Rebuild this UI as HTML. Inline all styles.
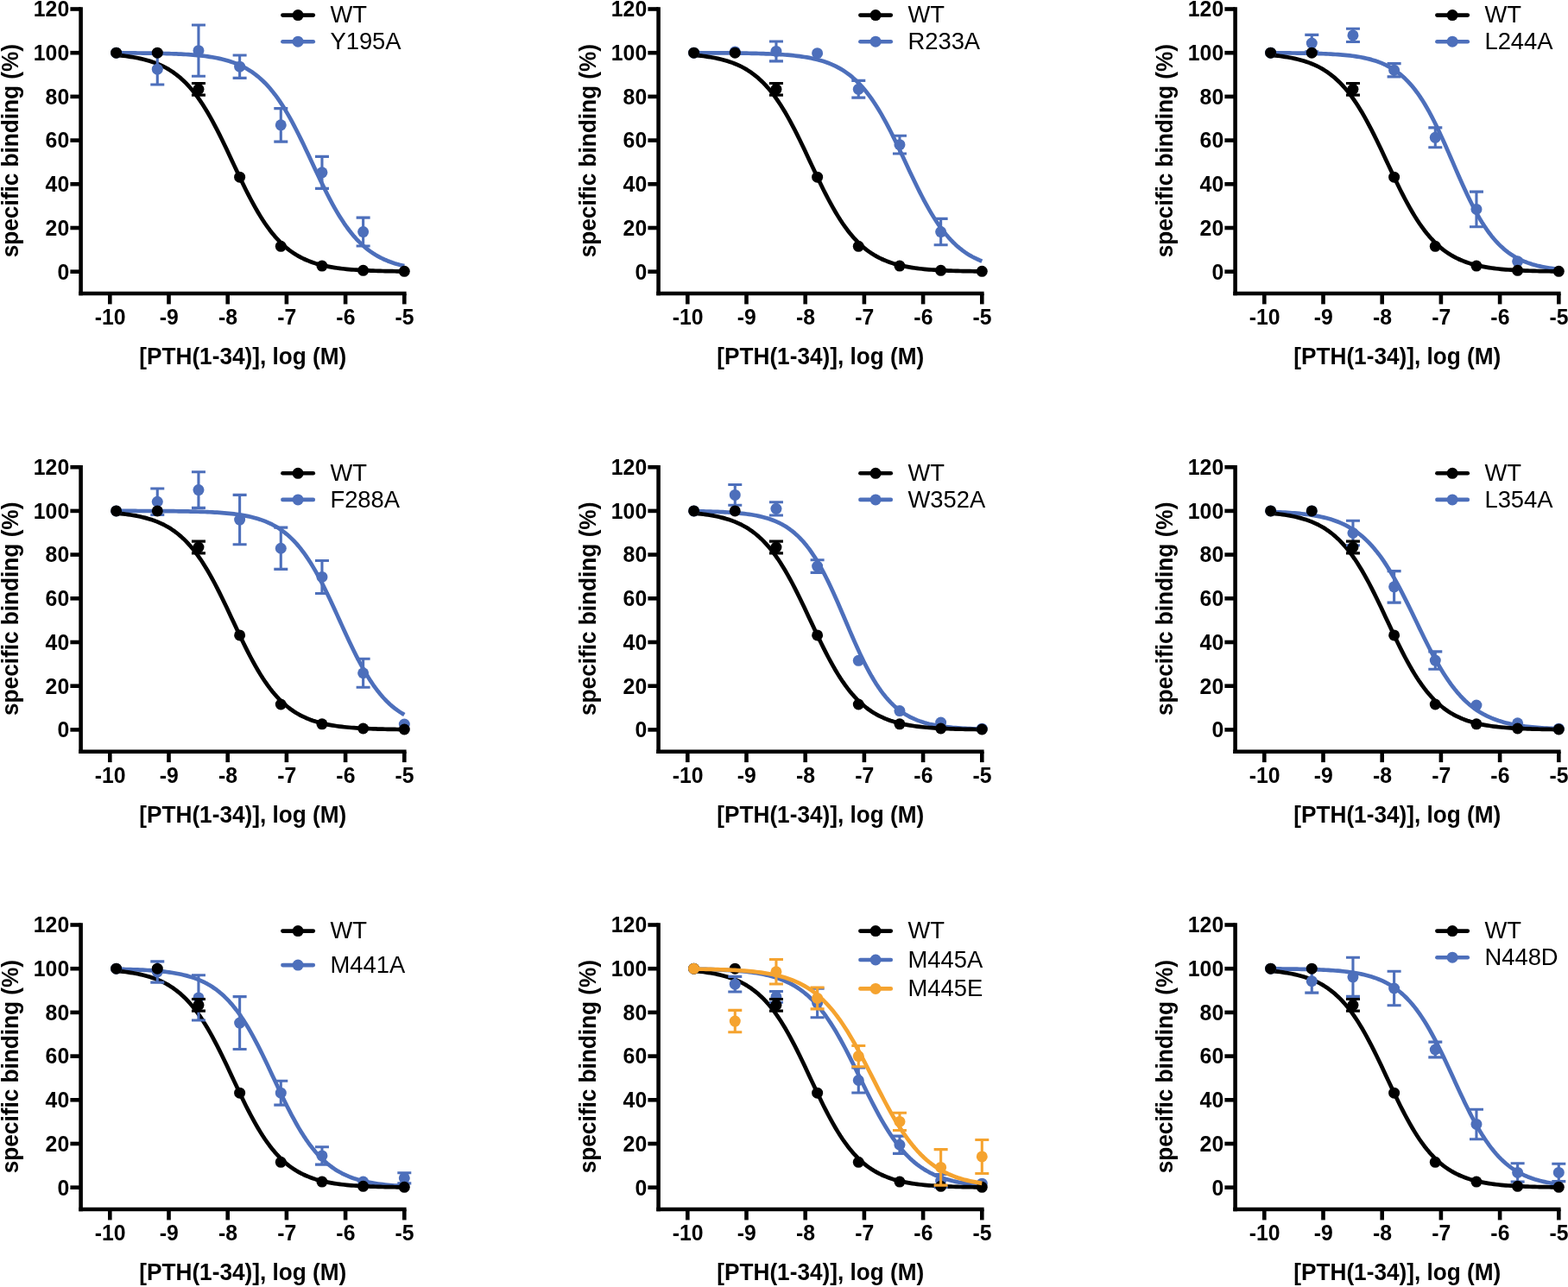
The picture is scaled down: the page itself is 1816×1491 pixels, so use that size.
<!DOCTYPE html>
<html><head><meta charset="utf-8"><title>PTH(1-34) binding curves</title>
<style>
html,body{margin:0;padding:0;background:#fff;}
svg{display:block;filter:blur(0.4px);}
.tk{font-family:"Liberation Sans",Arial,sans-serif;font-weight:bold;font-size:24.8px;fill:#000;}
.ti{font-family:"Liberation Sans",Arial,sans-serif;font-weight:bold;font-size:26.2px;fill:#000;}
.lg{font-family:"Liberation Sans",Arial,sans-serif;font-weight:normal;font-size:27.4px;fill:#000;}
</style></head>
<body>
<svg width="1816" height="1491" viewBox="0 0 1816 1491">
<rect width="1816" height="1491" fill="#fff"/>
<g transform="translate(0,0)">
<path d="M93.60,8.20V342.30" stroke="#000" stroke-width="4.6" fill="none"/>
<path d="M81.40,314.70H93.60" stroke="#000" stroke-width="4.6"/>
<text transform="translate(80.2,323.50) scale(1,1.045)" text-anchor="end" class="tk">0</text>
<path d="M81.40,264.00H93.60" stroke="#000" stroke-width="4.6"/>
<text transform="translate(80.2,272.80) scale(1,1.045)" text-anchor="end" class="tk">20</text>
<path d="M81.40,213.30H93.60" stroke="#000" stroke-width="4.6"/>
<text transform="translate(80.2,222.10) scale(1,1.045)" text-anchor="end" class="tk">40</text>
<path d="M81.40,162.60H93.60" stroke="#000" stroke-width="4.6"/>
<text transform="translate(80.2,171.40) scale(1,1.045)" text-anchor="end" class="tk">60</text>
<path d="M81.40,111.90H93.60" stroke="#000" stroke-width="4.6"/>
<text transform="translate(80.2,120.70) scale(1,1.045)" text-anchor="end" class="tk">80</text>
<path d="M81.40,61.20H93.60" stroke="#000" stroke-width="4.6"/>
<text transform="translate(80.2,70.00) scale(1,1.045)" text-anchor="end" class="tk">100</text>
<path d="M81.40,10.50H93.60" stroke="#000" stroke-width="4.6"/>
<text transform="translate(80.2,19.30) scale(1,1.045)" text-anchor="end" class="tk">120</text>
<path d="M91.30,340.00H470.60" stroke="#000" stroke-width="4.6" fill="none"/>
<path d="M127.30,340.00V352.40" stroke="#000" stroke-width="4.6"/>
<text transform="translate(127.60,376.0) scale(1,1.045)" text-anchor="middle" class="tk">-10</text>
<path d="M195.50,340.00V352.40" stroke="#000" stroke-width="4.6"/>
<text transform="translate(195.80,376.0) scale(1,1.045)" text-anchor="middle" class="tk">-9</text>
<path d="M263.70,340.00V352.40" stroke="#000" stroke-width="4.6"/>
<text transform="translate(264.00,376.0) scale(1,1.045)" text-anchor="middle" class="tk">-8</text>
<path d="M331.90,340.00V352.40" stroke="#000" stroke-width="4.6"/>
<text transform="translate(332.20,376.0) scale(1,1.045)" text-anchor="middle" class="tk">-7</text>
<path d="M400.10,340.00V352.40" stroke="#000" stroke-width="4.6"/>
<text transform="translate(400.40,376.0) scale(1,1.045)" text-anchor="middle" class="tk">-6</text>
<path d="M468.30,340.00V352.40" stroke="#000" stroke-width="4.6"/>
<text transform="translate(468.60,376.0) scale(1,1.045)" text-anchor="middle" class="tk">-5</text>
<text transform="translate(281.3,422.4) scale(1,1.06)" text-anchor="middle" class="ti">[PTH(1-34)], log (M)</text>
<text transform="translate(20.9,174.6) rotate(-90) scale(1,1.06)" text-anchor="middle" class="ti">specific binding (%)</text>
<path d="M134.61,61.32 L137.39,61.33 L140.17,61.35 L142.95,61.36 L145.73,61.38 L148.52,61.39 L151.30,61.41 L154.08,61.43 L156.86,61.46 L159.64,61.48 L162.42,61.51 L165.20,61.54 L167.98,61.57 L170.76,61.61 L173.54,61.65 L176.32,61.69 L179.10,61.74 L181.88,61.79 L184.66,61.85 L187.45,61.92 L190.23,61.99 L193.01,62.06 L195.79,62.15 L198.57,62.24 L201.35,62.34 L204.13,62.45 L206.91,62.58 L209.69,62.71 L212.47,62.86 L215.25,63.02 L218.03,63.20 L220.81,63.39 L223.60,63.61 L226.38,63.84 L229.16,64.10 L231.94,64.38 L234.72,64.69 L237.50,65.03 L240.28,65.40 L243.06,65.81 L245.84,66.25 L248.62,66.74 L251.40,67.27 L254.18,67.85 L256.96,68.49 L259.74,69.18 L262.53,69.94 L265.31,70.77 L268.09,71.67 L270.87,72.66 L273.65,73.73 L276.43,74.89 L279.21,76.16 L281.99,77.54 L284.77,79.03 L287.55,80.66 L290.33,82.41 L293.11,84.31 L295.89,86.36 L298.68,88.57 L301.46,90.94 L304.24,93.50 L307.02,96.24 L309.80,99.17 L312.58,102.30 L315.36,105.64 L318.14,109.18 L320.92,112.94 L323.70,116.92 L326.48,121.10 L329.26,125.51 L332.04,130.11 L334.82,134.92 L337.61,139.93 L340.39,145.11 L343.17,150.46 L345.95,155.97 L348.73,161.60 L351.51,167.34 L354.29,173.18 L357.07,179.07 L359.85,185.01 L362.63,190.96 L365.41,196.89 L368.19,202.79 L370.97,208.62 L373.75,214.37 L376.54,220.00 L379.32,225.50 L382.10,230.85 L384.88,236.03 L387.66,241.03 L390.44,245.84 L393.22,250.45 L396.00,254.84 L398.78,259.03 L401.56,263.00 L404.34,266.76 L407.12,270.30 L409.90,273.64 L412.69,276.76 L415.47,279.69 L418.25,282.43 L421.03,284.98 L423.81,287.36 L426.59,289.57 L429.37,291.61 L432.15,293.51 L434.93,295.26 L437.71,296.88 L440.49,298.38 L443.27,299.75 L446.05,301.02 L448.83,302.19 L451.62,303.26 L454.40,304.24 L457.18,305.14 L459.96,305.97 L462.74,306.73 L465.52,307.42 L468.30,308.06" fill="none" stroke="#4d6fbb" stroke-width="4.7" stroke-linejoin="round"/>
<path d="M134.61,63.84 L137.39,64.10 L140.17,64.38 L142.95,64.69 L145.73,65.03 L148.52,65.40 L151.30,65.80 L154.08,66.25 L156.86,66.73 L159.64,67.26 L162.42,67.84 L165.20,68.48 L167.98,69.17 L170.76,69.93 L173.54,70.76 L176.32,71.66 L179.10,72.64 L181.88,73.71 L184.66,74.88 L187.45,76.14 L190.23,77.52 L193.01,79.01 L195.79,80.63 L198.57,82.39 L201.35,84.28 L204.13,86.33 L206.91,88.54 L209.69,90.91 L212.47,93.46 L215.25,96.20 L218.03,99.13 L220.81,102.26 L223.60,105.59 L226.38,109.14 L229.16,112.89 L231.94,116.86 L234.72,121.05 L237.50,125.45 L240.28,130.05 L243.06,134.86 L245.84,139.86 L248.62,145.05 L251.40,150.39 L254.18,155.89 L256.96,161.53 L259.74,167.27 L262.53,173.10 L265.31,179.00 L268.09,184.93 L270.87,190.88 L273.65,196.82 L276.43,202.72 L279.21,208.55 L281.99,214.29 L284.77,219.93 L287.55,225.43 L290.33,230.78 L293.11,235.96 L295.89,240.97 L298.68,245.78 L301.46,250.39 L304.24,254.79 L307.02,258.98 L309.80,262.95 L312.58,266.71 L315.36,270.26 L318.14,273.59 L320.92,276.73 L323.70,279.66 L326.48,282.40 L329.26,284.95 L332.04,287.33 L334.82,289.54 L337.61,291.59 L340.39,293.49 L343.17,295.24 L345.95,296.86 L348.73,298.36 L351.51,299.74 L354.29,301.01 L357.07,302.17 L359.85,303.24 L362.63,304.23 L365.41,305.13 L368.19,305.96 L370.97,306.72 L373.75,307.41 L376.54,308.05 L379.32,308.63 L382.10,309.16 L384.88,309.65 L387.66,310.09 L390.44,310.50 L393.22,310.87 L396.00,311.21 L398.78,311.52 L401.56,311.80 L404.34,312.06 L407.12,312.29 L409.90,312.50 L412.69,312.70 L415.47,312.88 L418.25,313.04 L421.03,313.19 L423.81,313.32 L426.59,313.45 L429.37,313.56 L432.15,313.66 L434.93,313.75 L437.71,313.84 L440.49,313.91 L443.27,313.98 L446.05,314.05 L448.83,314.11 L451.62,314.16 L454.40,314.21 L457.18,314.25 L459.96,314.29 L462.74,314.33 L465.52,314.36 L468.30,314.39" fill="none" stroke="#000000" stroke-width="4.7" stroke-linejoin="round"/>
<circle cx="134.61" cy="61.20" r="6.5" fill="#4d6fbb"/>
<path d="M182.28,62.47V97.96M174.28,62.47H190.28M174.28,97.96H190.28" stroke="#4d6fbb" stroke-width="3.1" fill="none"/>
<circle cx="182.28" cy="80.21" r="6.5" fill="#4d6fbb"/>
<path d="M229.95,29.01V88.32M221.95,29.01H237.95M221.95,88.32H237.95" stroke="#4d6fbb" stroke-width="3.1" fill="none"/>
<circle cx="229.95" cy="58.66" r="6.5" fill="#4d6fbb"/>
<path d="M277.62,63.99V90.35M269.62,63.99H285.62M269.62,90.35H285.62" stroke="#4d6fbb" stroke-width="3.1" fill="none"/>
<circle cx="277.62" cy="77.17" r="6.5" fill="#4d6fbb"/>
<path d="M325.29,125.59V164.12M317.29,125.59H333.29M317.29,164.12H333.29" stroke="#4d6fbb" stroke-width="3.1" fill="none"/>
<circle cx="325.29" cy="144.85" r="6.5" fill="#4d6fbb"/>
<path d="M372.96,181.36V218.37M364.96,181.36H380.96M364.96,218.37H380.96" stroke="#4d6fbb" stroke-width="3.1" fill="none"/>
<circle cx="372.96" cy="199.86" r="6.5" fill="#4d6fbb"/>
<path d="M420.63,252.09V285.04M412.63,252.09H428.63M412.63,285.04H428.63" stroke="#4d6fbb" stroke-width="3.1" fill="none"/>
<circle cx="420.63" cy="268.56" r="6.5" fill="#4d6fbb"/>
<circle cx="134.61" cy="61.20" r="6.5" fill="#000000"/>
<circle cx="182.28" cy="61.20" r="6.5" fill="#000000"/>
<path d="M229.95,96.44V110.13M221.95,96.44H237.95M221.95,110.13H237.95" stroke="#000000" stroke-width="3.1" fill="none"/>
<circle cx="229.95" cy="103.28" r="6.5" fill="#000000"/>
<circle cx="277.62" cy="205.19" r="6.5" fill="#000000"/>
<circle cx="325.29" cy="285.29" r="6.5" fill="#000000"/>
<circle cx="372.96" cy="308.11" r="6.5" fill="#000000"/>
<circle cx="420.63" cy="313.31" r="6.5" fill="#000000"/>
<circle cx="468.30" cy="314.32" r="6.5" fill="#000000"/>
<path d="M327.4,17.60H362.8" stroke="#000000" stroke-width="4.6" stroke-linecap="round"/>
<circle cx="345.1" cy="17.60" r="6.5" fill="#000000"/>
<text transform="translate(382.4,26.30) scale(1,1.03)" class="lg">WT</text>
<path d="M327.4,48.20H362.8" stroke="#4d6fbb" stroke-width="4.6" stroke-linecap="round"/>
<circle cx="345.1" cy="48.20" r="6.5" fill="#4d6fbb"/>
<text transform="translate(382.4,56.90) scale(1,1.03)" class="lg">Y195A</text>
</g>
<g transform="translate(669,0)">
<path d="M93.60,8.20V342.30" stroke="#000" stroke-width="4.6" fill="none"/>
<path d="M81.40,314.70H93.60" stroke="#000" stroke-width="4.6"/>
<text transform="translate(80.2,323.50) scale(1,1.045)" text-anchor="end" class="tk">0</text>
<path d="M81.40,264.00H93.60" stroke="#000" stroke-width="4.6"/>
<text transform="translate(80.2,272.80) scale(1,1.045)" text-anchor="end" class="tk">20</text>
<path d="M81.40,213.30H93.60" stroke="#000" stroke-width="4.6"/>
<text transform="translate(80.2,222.10) scale(1,1.045)" text-anchor="end" class="tk">40</text>
<path d="M81.40,162.60H93.60" stroke="#000" stroke-width="4.6"/>
<text transform="translate(80.2,171.40) scale(1,1.045)" text-anchor="end" class="tk">60</text>
<path d="M81.40,111.90H93.60" stroke="#000" stroke-width="4.6"/>
<text transform="translate(80.2,120.70) scale(1,1.045)" text-anchor="end" class="tk">80</text>
<path d="M81.40,61.20H93.60" stroke="#000" stroke-width="4.6"/>
<text transform="translate(80.2,70.00) scale(1,1.045)" text-anchor="end" class="tk">100</text>
<path d="M81.40,10.50H93.60" stroke="#000" stroke-width="4.6"/>
<text transform="translate(80.2,19.30) scale(1,1.045)" text-anchor="end" class="tk">120</text>
<path d="M91.30,340.00H470.60" stroke="#000" stroke-width="4.6" fill="none"/>
<path d="M127.30,340.00V352.40" stroke="#000" stroke-width="4.6"/>
<text transform="translate(127.60,376.0) scale(1,1.045)" text-anchor="middle" class="tk">-10</text>
<path d="M195.50,340.00V352.40" stroke="#000" stroke-width="4.6"/>
<text transform="translate(195.80,376.0) scale(1,1.045)" text-anchor="middle" class="tk">-9</text>
<path d="M263.70,340.00V352.40" stroke="#000" stroke-width="4.6"/>
<text transform="translate(264.00,376.0) scale(1,1.045)" text-anchor="middle" class="tk">-8</text>
<path d="M331.90,340.00V352.40" stroke="#000" stroke-width="4.6"/>
<text transform="translate(332.20,376.0) scale(1,1.045)" text-anchor="middle" class="tk">-7</text>
<path d="M400.10,340.00V352.40" stroke="#000" stroke-width="4.6"/>
<text transform="translate(400.40,376.0) scale(1,1.045)" text-anchor="middle" class="tk">-6</text>
<path d="M468.30,340.00V352.40" stroke="#000" stroke-width="4.6"/>
<text transform="translate(468.60,376.0) scale(1,1.045)" text-anchor="middle" class="tk">-5</text>
<text transform="translate(281.3,422.4) scale(1,1.06)" text-anchor="middle" class="ti">[PTH(1-34)], log (M)</text>
<text transform="translate(20.9,174.6) rotate(-90) scale(1,1.06)" text-anchor="middle" class="ti">specific binding (%)</text>
<path d="M134.61,61.26 L137.39,61.27 L140.17,61.28 L142.95,61.29 L145.73,61.29 L148.52,61.30 L151.30,61.31 L154.08,61.32 L156.86,61.34 L159.64,61.35 L162.42,61.37 L165.20,61.38 L167.98,61.40 L170.76,61.42 L173.54,61.44 L176.32,61.46 L179.10,61.49 L181.88,61.52 L184.66,61.55 L187.45,61.58 L190.23,61.62 L193.01,61.66 L195.79,61.71 L198.57,61.76 L201.35,61.81 L204.13,61.88 L206.91,61.94 L209.69,62.01 L212.47,62.09 L215.25,62.18 L218.03,62.28 L220.81,62.38 L223.60,62.50 L226.38,62.63 L229.16,62.77 L231.94,62.92 L234.72,63.09 L237.50,63.27 L240.28,63.47 L243.06,63.69 L245.84,63.94 L248.62,64.20 L251.40,64.50 L254.18,64.82 L256.96,65.17 L259.74,65.55 L262.53,65.97 L265.31,66.43 L268.09,66.93 L270.87,67.48 L273.65,68.08 L276.43,68.74 L279.21,69.46 L281.99,70.24 L284.77,71.10 L287.55,72.03 L290.33,73.05 L293.11,74.16 L295.89,75.36 L298.68,76.67 L301.46,78.09 L304.24,79.63 L307.02,81.30 L309.80,83.11 L312.58,85.06 L315.36,87.17 L318.14,89.44 L320.92,91.89 L323.70,94.51 L326.48,97.32 L329.26,100.33 L332.04,103.54 L334.82,106.95 L337.61,110.58 L340.39,114.42 L343.17,118.47 L345.95,122.74 L348.73,127.22 L351.51,131.91 L354.29,136.79 L357.07,141.87 L359.85,147.12 L362.63,152.53 L365.41,158.08 L368.19,163.76 L370.97,169.54 L373.75,175.40 L376.54,181.31 L379.32,187.26 L382.10,193.20 L384.88,199.13 L387.66,205.00 L390.44,210.80 L393.22,216.51 L396.00,222.09 L398.78,227.54 L401.56,232.83 L404.34,237.94 L407.12,242.87 L409.90,247.60 L412.69,252.13 L415.47,256.45 L418.25,260.56 L421.03,264.45 L423.81,268.12 L426.59,271.59 L429.37,274.84 L432.15,277.90 L434.93,280.75 L437.71,283.42 L440.49,285.90 L443.27,288.21 L446.05,290.36 L448.83,292.35 L451.62,294.19 L454.40,295.89 L457.18,297.46 L459.96,298.91 L462.74,300.24 L465.52,301.47 L468.30,302.60" fill="none" stroke="#4d6fbb" stroke-width="4.7" stroke-linejoin="round"/>
<path d="M134.61,63.84 L137.39,64.10 L140.17,64.38 L142.95,64.69 L145.73,65.03 L148.52,65.40 L151.30,65.80 L154.08,66.25 L156.86,66.73 L159.64,67.26 L162.42,67.84 L165.20,68.48 L167.98,69.17 L170.76,69.93 L173.54,70.76 L176.32,71.66 L179.10,72.64 L181.88,73.71 L184.66,74.88 L187.45,76.14 L190.23,77.52 L193.01,79.01 L195.79,80.63 L198.57,82.39 L201.35,84.28 L204.13,86.33 L206.91,88.54 L209.69,90.91 L212.47,93.46 L215.25,96.20 L218.03,99.13 L220.81,102.26 L223.60,105.59 L226.38,109.14 L229.16,112.89 L231.94,116.86 L234.72,121.05 L237.50,125.45 L240.28,130.05 L243.06,134.86 L245.84,139.86 L248.62,145.05 L251.40,150.39 L254.18,155.89 L256.96,161.53 L259.74,167.27 L262.53,173.10 L265.31,179.00 L268.09,184.93 L270.87,190.88 L273.65,196.82 L276.43,202.72 L279.21,208.55 L281.99,214.29 L284.77,219.93 L287.55,225.43 L290.33,230.78 L293.11,235.96 L295.89,240.97 L298.68,245.78 L301.46,250.39 L304.24,254.79 L307.02,258.98 L309.80,262.95 L312.58,266.71 L315.36,270.26 L318.14,273.59 L320.92,276.73 L323.70,279.66 L326.48,282.40 L329.26,284.95 L332.04,287.33 L334.82,289.54 L337.61,291.59 L340.39,293.49 L343.17,295.24 L345.95,296.86 L348.73,298.36 L351.51,299.74 L354.29,301.01 L357.07,302.17 L359.85,303.24 L362.63,304.23 L365.41,305.13 L368.19,305.96 L370.97,306.72 L373.75,307.41 L376.54,308.05 L379.32,308.63 L382.10,309.16 L384.88,309.65 L387.66,310.09 L390.44,310.50 L393.22,310.87 L396.00,311.21 L398.78,311.52 L401.56,311.80 L404.34,312.06 L407.12,312.29 L409.90,312.50 L412.69,312.70 L415.47,312.88 L418.25,313.04 L421.03,313.19 L423.81,313.32 L426.59,313.45 L429.37,313.56 L432.15,313.66 L434.93,313.75 L437.71,313.84 L440.49,313.91 L443.27,313.98 L446.05,314.05 L448.83,314.11 L451.62,314.16 L454.40,314.21 L457.18,314.25 L459.96,314.29 L462.74,314.33 L465.52,314.36 L468.30,314.39" fill="none" stroke="#000000" stroke-width="4.7" stroke-linejoin="round"/>
<circle cx="134.61" cy="61.20" r="6.5" fill="#4d6fbb"/>
<circle cx="182.28" cy="59.93" r="6.5" fill="#4d6fbb"/>
<path d="M229.95,48.02V70.83M221.95,48.02H237.95M221.95,70.83H237.95" stroke="#4d6fbb" stroke-width="3.1" fill="none"/>
<circle cx="229.95" cy="59.43" r="6.5" fill="#4d6fbb"/>
<circle cx="277.62" cy="61.71" r="6.5" fill="#4d6fbb"/>
<path d="M325.29,93.39V113.17M317.29,93.39H333.29M317.29,113.17H333.29" stroke="#4d6fbb" stroke-width="3.1" fill="none"/>
<circle cx="325.29" cy="103.28" r="6.5" fill="#4d6fbb"/>
<path d="M372.96,157.28V178.06M364.96,157.28H380.96M364.96,178.06H380.96" stroke="#4d6fbb" stroke-width="3.1" fill="none"/>
<circle cx="372.96" cy="167.67" r="6.5" fill="#4d6fbb"/>
<path d="M420.63,253.35V283.77M412.63,253.35H428.63M412.63,283.77H428.63" stroke="#4d6fbb" stroke-width="3.1" fill="none"/>
<circle cx="420.63" cy="268.56" r="6.5" fill="#4d6fbb"/>
<circle cx="134.61" cy="61.20" r="6.5" fill="#000000"/>
<circle cx="182.28" cy="61.20" r="6.5" fill="#000000"/>
<path d="M229.95,96.44V110.13M221.95,96.44H237.95M221.95,110.13H237.95" stroke="#000000" stroke-width="3.1" fill="none"/>
<circle cx="229.95" cy="103.28" r="6.5" fill="#000000"/>
<circle cx="277.62" cy="205.19" r="6.5" fill="#000000"/>
<circle cx="325.29" cy="285.29" r="6.5" fill="#000000"/>
<circle cx="372.96" cy="308.11" r="6.5" fill="#000000"/>
<circle cx="420.63" cy="313.31" r="6.5" fill="#000000"/>
<circle cx="468.30" cy="314.32" r="6.5" fill="#000000"/>
<path d="M327.4,17.60H362.8" stroke="#000000" stroke-width="4.6" stroke-linecap="round"/>
<circle cx="345.1" cy="17.60" r="6.5" fill="#000000"/>
<text transform="translate(382.4,26.30) scale(1,1.03)" class="lg">WT</text>
<path d="M327.4,48.20H362.8" stroke="#4d6fbb" stroke-width="4.6" stroke-linecap="round"/>
<circle cx="345.1" cy="48.20" r="6.5" fill="#4d6fbb"/>
<text transform="translate(382.4,56.90) scale(1,1.03)" class="lg">R233A</text>
</g>
<g transform="translate(1337,0)">
<path d="M93.60,8.20V342.30" stroke="#000" stroke-width="4.6" fill="none"/>
<path d="M81.40,314.70H93.60" stroke="#000" stroke-width="4.6"/>
<text transform="translate(80.2,323.50) scale(1,1.045)" text-anchor="end" class="tk">0</text>
<path d="M81.40,264.00H93.60" stroke="#000" stroke-width="4.6"/>
<text transform="translate(80.2,272.80) scale(1,1.045)" text-anchor="end" class="tk">20</text>
<path d="M81.40,213.30H93.60" stroke="#000" stroke-width="4.6"/>
<text transform="translate(80.2,222.10) scale(1,1.045)" text-anchor="end" class="tk">40</text>
<path d="M81.40,162.60H93.60" stroke="#000" stroke-width="4.6"/>
<text transform="translate(80.2,171.40) scale(1,1.045)" text-anchor="end" class="tk">60</text>
<path d="M81.40,111.90H93.60" stroke="#000" stroke-width="4.6"/>
<text transform="translate(80.2,120.70) scale(1,1.045)" text-anchor="end" class="tk">80</text>
<path d="M81.40,61.20H93.60" stroke="#000" stroke-width="4.6"/>
<text transform="translate(80.2,70.00) scale(1,1.045)" text-anchor="end" class="tk">100</text>
<path d="M81.40,10.50H93.60" stroke="#000" stroke-width="4.6"/>
<text transform="translate(80.2,19.30) scale(1,1.045)" text-anchor="end" class="tk">120</text>
<path d="M91.30,340.00H470.60" stroke="#000" stroke-width="4.6" fill="none"/>
<path d="M127.30,340.00V352.40" stroke="#000" stroke-width="4.6"/>
<text transform="translate(127.60,376.0) scale(1,1.045)" text-anchor="middle" class="tk">-10</text>
<path d="M195.50,340.00V352.40" stroke="#000" stroke-width="4.6"/>
<text transform="translate(195.80,376.0) scale(1,1.045)" text-anchor="middle" class="tk">-9</text>
<path d="M263.70,340.00V352.40" stroke="#000" stroke-width="4.6"/>
<text transform="translate(264.00,376.0) scale(1,1.045)" text-anchor="middle" class="tk">-8</text>
<path d="M331.90,340.00V352.40" stroke="#000" stroke-width="4.6"/>
<text transform="translate(332.20,376.0) scale(1,1.045)" text-anchor="middle" class="tk">-7</text>
<path d="M400.10,340.00V352.40" stroke="#000" stroke-width="4.6"/>
<text transform="translate(400.40,376.0) scale(1,1.045)" text-anchor="middle" class="tk">-6</text>
<path d="M468.30,340.00V352.40" stroke="#000" stroke-width="4.6"/>
<text transform="translate(468.60,376.0) scale(1,1.045)" text-anchor="middle" class="tk">-5</text>
<text transform="translate(281.3,422.4) scale(1,1.06)" text-anchor="middle" class="ti">[PTH(1-34)], log (M)</text>
<text transform="translate(20.9,174.6) rotate(-90) scale(1,1.06)" text-anchor="middle" class="ti">specific binding (%)</text>
<path d="M134.61,61.32 L137.39,61.33 L140.17,61.34 L142.95,61.36 L145.73,61.37 L148.52,61.39 L151.30,61.41 L154.08,61.44 L156.86,61.46 L159.64,61.49 L162.42,61.52 L165.20,61.55 L167.98,61.59 L170.76,61.63 L173.54,61.68 L176.32,61.73 L179.10,61.79 L181.88,61.85 L184.66,61.92 L187.45,61.99 L190.23,62.08 L193.01,62.17 L195.79,62.27 L198.57,62.39 L201.35,62.51 L204.13,62.65 L206.91,62.81 L209.69,62.98 L212.47,63.17 L215.25,63.37 L218.03,63.60 L220.81,63.86 L223.60,64.14 L226.38,64.45 L229.16,64.79 L231.94,65.16 L234.72,65.58 L237.50,66.04 L240.28,66.54 L243.06,67.10 L245.84,67.71 L248.62,68.39 L251.40,69.13 L254.18,69.95 L256.96,70.85 L259.74,71.83 L262.53,72.92 L265.31,74.10 L268.09,75.40 L270.87,76.83 L273.65,78.38 L276.43,80.08 L279.21,81.93 L281.99,83.94 L284.77,86.13 L287.55,88.50 L290.33,91.07 L293.11,93.85 L295.89,96.84 L298.68,100.07 L301.46,103.52 L304.24,107.22 L307.02,111.16 L309.80,115.35 L312.58,119.79 L315.36,124.49 L318.14,129.42 L320.92,134.59 L323.70,139.99 L326.48,145.60 L329.26,151.40 L332.04,157.38 L334.82,163.50 L337.61,169.74 L340.39,176.08 L343.17,182.47 L345.95,188.89 L348.73,195.31 L351.51,201.69 L354.29,208.00 L357.07,214.21 L359.85,220.29 L362.63,226.22 L365.41,231.96 L368.19,237.51 L370.97,242.85 L373.75,247.95 L376.54,252.81 L379.32,257.43 L382.10,261.80 L384.88,265.92 L387.66,269.79 L390.44,273.42 L393.22,276.80 L396.00,279.96 L398.78,282.89 L401.56,285.60 L404.34,288.11 L407.12,290.43 L409.90,292.57 L412.69,294.53 L415.47,296.34 L418.25,297.99 L421.03,299.50 L423.81,300.89 L426.59,302.16 L429.37,303.31 L432.15,304.36 L434.93,305.32 L437.71,306.20 L440.49,306.99 L443.27,307.72 L446.05,308.37 L448.83,308.97 L451.62,309.51 L454.40,310.00 L457.18,310.45 L459.96,310.85 L462.74,311.22 L465.52,311.55 L468.30,311.85" fill="none" stroke="#4d6fbb" stroke-width="4.7" stroke-linejoin="round"/>
<path d="M134.61,63.84 L137.39,64.10 L140.17,64.38 L142.95,64.69 L145.73,65.03 L148.52,65.40 L151.30,65.80 L154.08,66.25 L156.86,66.73 L159.64,67.26 L162.42,67.84 L165.20,68.48 L167.98,69.17 L170.76,69.93 L173.54,70.76 L176.32,71.66 L179.10,72.64 L181.88,73.71 L184.66,74.88 L187.45,76.14 L190.23,77.52 L193.01,79.01 L195.79,80.63 L198.57,82.39 L201.35,84.28 L204.13,86.33 L206.91,88.54 L209.69,90.91 L212.47,93.46 L215.25,96.20 L218.03,99.13 L220.81,102.26 L223.60,105.59 L226.38,109.14 L229.16,112.89 L231.94,116.86 L234.72,121.05 L237.50,125.45 L240.28,130.05 L243.06,134.86 L245.84,139.86 L248.62,145.05 L251.40,150.39 L254.18,155.89 L256.96,161.53 L259.74,167.27 L262.53,173.10 L265.31,179.00 L268.09,184.93 L270.87,190.88 L273.65,196.82 L276.43,202.72 L279.21,208.55 L281.99,214.29 L284.77,219.93 L287.55,225.43 L290.33,230.78 L293.11,235.96 L295.89,240.97 L298.68,245.78 L301.46,250.39 L304.24,254.79 L307.02,258.98 L309.80,262.95 L312.58,266.71 L315.36,270.26 L318.14,273.59 L320.92,276.73 L323.70,279.66 L326.48,282.40 L329.26,284.95 L332.04,287.33 L334.82,289.54 L337.61,291.59 L340.39,293.49 L343.17,295.24 L345.95,296.86 L348.73,298.36 L351.51,299.74 L354.29,301.01 L357.07,302.17 L359.85,303.24 L362.63,304.23 L365.41,305.13 L368.19,305.96 L370.97,306.72 L373.75,307.41 L376.54,308.05 L379.32,308.63 L382.10,309.16 L384.88,309.65 L387.66,310.09 L390.44,310.50 L393.22,310.87 L396.00,311.21 L398.78,311.52 L401.56,311.80 L404.34,312.06 L407.12,312.29 L409.90,312.50 L412.69,312.70 L415.47,312.88 L418.25,313.04 L421.03,313.19 L423.81,313.32 L426.59,313.45 L429.37,313.56 L432.15,313.66 L434.93,313.75 L437.71,313.84 L440.49,313.91 L443.27,313.98 L446.05,314.05 L448.83,314.11 L451.62,314.16 L454.40,314.21 L457.18,314.25 L459.96,314.29 L462.74,314.33 L465.52,314.36 L468.30,314.39" fill="none" stroke="#000000" stroke-width="4.7" stroke-linejoin="round"/>
<circle cx="134.61" cy="61.20" r="6.5" fill="#4d6fbb"/>
<path d="M182.28,40.41V59.68M174.28,40.41H190.28M174.28,59.68H190.28" stroke="#4d6fbb" stroke-width="3.1" fill="none"/>
<circle cx="182.28" cy="50.05" r="6.5" fill="#4d6fbb"/>
<path d="M229.95,33.31V48.52M221.95,33.31H237.95M221.95,48.52H237.95" stroke="#4d6fbb" stroke-width="3.1" fill="none"/>
<circle cx="229.95" cy="40.92" r="6.5" fill="#4d6fbb"/>
<path d="M277.62,73.62V88.83M269.62,73.62H285.62M269.62,88.83H285.62" stroke="#4d6fbb" stroke-width="3.1" fill="none"/>
<circle cx="277.62" cy="81.23" r="6.5" fill="#4d6fbb"/>
<path d="M325.29,147.90V170.71M317.29,147.90H333.29M317.29,170.71H333.29" stroke="#4d6fbb" stroke-width="3.1" fill="none"/>
<circle cx="325.29" cy="159.30" r="6.5" fill="#4d6fbb"/>
<path d="M372.96,222.17V262.73M364.96,222.17H380.96M364.96,262.73H380.96" stroke="#4d6fbb" stroke-width="3.1" fill="none"/>
<circle cx="372.96" cy="242.45" r="6.5" fill="#4d6fbb"/>
<circle cx="420.63" cy="302.79" r="6.5" fill="#4d6fbb"/>
<circle cx="134.61" cy="61.20" r="6.5" fill="#000000"/>
<circle cx="182.28" cy="61.20" r="6.5" fill="#000000"/>
<path d="M229.95,96.44V110.13M221.95,96.44H237.95M221.95,110.13H237.95" stroke="#000000" stroke-width="3.1" fill="none"/>
<circle cx="229.95" cy="103.28" r="6.5" fill="#000000"/>
<circle cx="277.62" cy="205.19" r="6.5" fill="#000000"/>
<circle cx="325.29" cy="285.29" r="6.5" fill="#000000"/>
<circle cx="372.96" cy="308.11" r="6.5" fill="#000000"/>
<circle cx="420.63" cy="313.31" r="6.5" fill="#000000"/>
<circle cx="468.30" cy="314.32" r="6.5" fill="#000000"/>
<path d="M327.4,17.60H362.8" stroke="#000000" stroke-width="4.6" stroke-linecap="round"/>
<circle cx="345.1" cy="17.60" r="6.5" fill="#000000"/>
<text transform="translate(382.4,26.30) scale(1,1.03)" class="lg">WT</text>
<path d="M327.4,48.20H362.8" stroke="#4d6fbb" stroke-width="4.6" stroke-linecap="round"/>
<circle cx="345.1" cy="48.20" r="6.5" fill="#4d6fbb"/>
<text transform="translate(382.4,56.90) scale(1,1.03)" class="lg">L244A</text>
</g>
<g transform="translate(0,530.7)">
<path d="M93.60,8.20V342.30" stroke="#000" stroke-width="4.6" fill="none"/>
<path d="M81.40,314.70H93.60" stroke="#000" stroke-width="4.6"/>
<text transform="translate(80.2,323.50) scale(1,1.045)" text-anchor="end" class="tk">0</text>
<path d="M81.40,264.00H93.60" stroke="#000" stroke-width="4.6"/>
<text transform="translate(80.2,272.80) scale(1,1.045)" text-anchor="end" class="tk">20</text>
<path d="M81.40,213.30H93.60" stroke="#000" stroke-width="4.6"/>
<text transform="translate(80.2,222.10) scale(1,1.045)" text-anchor="end" class="tk">40</text>
<path d="M81.40,162.60H93.60" stroke="#000" stroke-width="4.6"/>
<text transform="translate(80.2,171.40) scale(1,1.045)" text-anchor="end" class="tk">60</text>
<path d="M81.40,111.90H93.60" stroke="#000" stroke-width="4.6"/>
<text transform="translate(80.2,120.70) scale(1,1.045)" text-anchor="end" class="tk">80</text>
<path d="M81.40,61.20H93.60" stroke="#000" stroke-width="4.6"/>
<text transform="translate(80.2,70.00) scale(1,1.045)" text-anchor="end" class="tk">100</text>
<path d="M81.40,10.50H93.60" stroke="#000" stroke-width="4.6"/>
<text transform="translate(80.2,19.30) scale(1,1.045)" text-anchor="end" class="tk">120</text>
<path d="M91.30,340.00H470.60" stroke="#000" stroke-width="4.6" fill="none"/>
<path d="M127.30,340.00V352.40" stroke="#000" stroke-width="4.6"/>
<text transform="translate(127.60,376.0) scale(1,1.045)" text-anchor="middle" class="tk">-10</text>
<path d="M195.50,340.00V352.40" stroke="#000" stroke-width="4.6"/>
<text transform="translate(195.80,376.0) scale(1,1.045)" text-anchor="middle" class="tk">-9</text>
<path d="M263.70,340.00V352.40" stroke="#000" stroke-width="4.6"/>
<text transform="translate(264.00,376.0) scale(1,1.045)" text-anchor="middle" class="tk">-8</text>
<path d="M331.90,340.00V352.40" stroke="#000" stroke-width="4.6"/>
<text transform="translate(332.20,376.0) scale(1,1.045)" text-anchor="middle" class="tk">-7</text>
<path d="M400.10,340.00V352.40" stroke="#000" stroke-width="4.6"/>
<text transform="translate(400.40,376.0) scale(1,1.045)" text-anchor="middle" class="tk">-6</text>
<path d="M468.30,340.00V352.40" stroke="#000" stroke-width="4.6"/>
<text transform="translate(468.60,376.0) scale(1,1.045)" text-anchor="middle" class="tk">-5</text>
<text transform="translate(281.3,422.4) scale(1,1.06)" text-anchor="middle" class="ti">[PTH(1-34)], log (M)</text>
<text transform="translate(20.9,174.6) rotate(-90) scale(1,1.06)" text-anchor="middle" class="ti">specific binding (%)</text>
<path d="M134.61,61.23 L137.39,61.23 L140.17,61.24 L142.95,61.24 L145.73,61.25 L148.52,61.25 L151.30,61.26 L154.08,61.26 L156.86,61.27 L159.64,61.28 L162.42,61.28 L165.20,61.29 L167.98,61.30 L170.76,61.31 L173.54,61.32 L176.32,61.33 L179.10,61.35 L181.88,61.36 L184.66,61.38 L187.45,61.40 L190.23,61.42 L193.01,61.44 L195.79,61.46 L198.57,61.49 L201.35,61.52 L204.13,61.55 L206.91,61.59 L209.69,61.63 L212.47,61.67 L215.25,61.72 L218.03,61.77 L220.81,61.83 L223.60,61.89 L226.38,61.96 L229.16,62.04 L231.94,62.12 L234.72,62.22 L237.50,62.32 L240.28,62.43 L243.06,62.56 L245.84,62.70 L248.62,62.85 L251.40,63.01 L254.18,63.19 L256.96,63.40 L259.74,63.62 L262.53,63.86 L265.31,64.13 L268.09,64.42 L270.87,64.74 L273.65,65.09 L276.43,65.48 L279.21,65.91 L281.99,66.38 L284.77,66.89 L287.55,67.46 L290.33,68.07 L293.11,68.75 L295.89,69.49 L298.68,70.31 L301.46,71.19 L304.24,72.16 L307.02,73.22 L309.80,74.38 L312.58,75.64 L315.36,77.02 L318.14,78.52 L320.92,80.14 L323.70,81.91 L326.48,83.82 L329.26,85.90 L332.04,88.14 L334.82,90.56 L337.61,93.16 L340.39,95.96 L343.17,98.96 L345.95,102.18 L348.73,105.61 L351.51,109.26 L354.29,113.14 L357.07,117.25 L359.85,121.59 L362.63,126.15 L365.41,130.93 L368.19,135.92 L370.97,141.12 L373.75,146.50 L376.54,152.06 L379.32,157.77 L382.10,163.61 L384.88,169.56 L387.66,175.60 L390.44,181.69 L393.22,187.82 L396.00,193.94 L398.78,200.04 L401.56,206.08 L404.34,212.04 L407.12,217.88 L409.90,223.60 L412.69,229.16 L415.47,234.56 L418.25,239.76 L421.03,244.76 L423.81,249.55 L426.59,254.12 L429.37,258.47 L432.15,262.58 L434.93,266.47 L437.71,270.14 L440.49,273.58 L443.27,276.80 L446.05,279.81 L448.83,282.62 L451.62,285.24 L454.40,287.66 L457.18,289.91 L459.96,291.99 L462.74,293.91 L465.52,295.68 L468.30,297.32" fill="none" stroke="#4d6fbb" stroke-width="4.7" stroke-linejoin="round"/>
<path d="M134.61,63.84 L137.39,64.10 L140.17,64.38 L142.95,64.69 L145.73,65.03 L148.52,65.40 L151.30,65.80 L154.08,66.25 L156.86,66.73 L159.64,67.26 L162.42,67.84 L165.20,68.48 L167.98,69.17 L170.76,69.93 L173.54,70.76 L176.32,71.66 L179.10,72.64 L181.88,73.71 L184.66,74.88 L187.45,76.14 L190.23,77.52 L193.01,79.01 L195.79,80.63 L198.57,82.39 L201.35,84.28 L204.13,86.33 L206.91,88.54 L209.69,90.91 L212.47,93.46 L215.25,96.20 L218.03,99.13 L220.81,102.26 L223.60,105.59 L226.38,109.14 L229.16,112.89 L231.94,116.86 L234.72,121.05 L237.50,125.45 L240.28,130.05 L243.06,134.86 L245.84,139.86 L248.62,145.05 L251.40,150.39 L254.18,155.89 L256.96,161.53 L259.74,167.27 L262.53,173.10 L265.31,179.00 L268.09,184.93 L270.87,190.88 L273.65,196.82 L276.43,202.72 L279.21,208.55 L281.99,214.29 L284.77,219.93 L287.55,225.43 L290.33,230.78 L293.11,235.96 L295.89,240.97 L298.68,245.78 L301.46,250.39 L304.24,254.79 L307.02,258.98 L309.80,262.95 L312.58,266.71 L315.36,270.26 L318.14,273.59 L320.92,276.73 L323.70,279.66 L326.48,282.40 L329.26,284.95 L332.04,287.33 L334.82,289.54 L337.61,291.59 L340.39,293.49 L343.17,295.24 L345.95,296.86 L348.73,298.36 L351.51,299.74 L354.29,301.01 L357.07,302.17 L359.85,303.24 L362.63,304.23 L365.41,305.13 L368.19,305.96 L370.97,306.72 L373.75,307.41 L376.54,308.05 L379.32,308.63 L382.10,309.16 L384.88,309.65 L387.66,310.09 L390.44,310.50 L393.22,310.87 L396.00,311.21 L398.78,311.52 L401.56,311.80 L404.34,312.06 L407.12,312.29 L409.90,312.50 L412.69,312.70 L415.47,312.88 L418.25,313.04 L421.03,313.19 L423.81,313.32 L426.59,313.45 L429.37,313.56 L432.15,313.66 L434.93,313.75 L437.71,313.84 L440.49,313.91 L443.27,313.98 L446.05,314.05 L448.83,314.11 L451.62,314.16 L454.40,314.21 L457.18,314.25 L459.96,314.29 L462.74,314.33 L465.52,314.36 L468.30,314.39" fill="none" stroke="#000000" stroke-width="4.7" stroke-linejoin="round"/>
<circle cx="134.61" cy="61.20" r="6.5" fill="#4d6fbb"/>
<path d="M182.28,35.34V65.76M174.28,35.34H190.28M174.28,65.76H190.28" stroke="#4d6fbb" stroke-width="3.1" fill="none"/>
<circle cx="182.28" cy="50.55" r="6.5" fill="#4d6fbb"/>
<path d="M229.95,16.08V57.65M221.95,16.08H237.95M221.95,57.65H237.95" stroke="#4d6fbb" stroke-width="3.1" fill="none"/>
<circle cx="229.95" cy="36.86" r="6.5" fill="#4d6fbb"/>
<path d="M277.62,42.69V99.99M269.62,42.69H285.62M269.62,99.99H285.62" stroke="#4d6fbb" stroke-width="3.1" fill="none"/>
<circle cx="277.62" cy="71.34" r="6.5" fill="#4d6fbb"/>
<path d="M325.29,80.47V128.63M317.29,80.47H333.29M317.29,128.63H333.29" stroke="#4d6fbb" stroke-width="3.1" fill="none"/>
<circle cx="325.29" cy="104.55" r="6.5" fill="#4d6fbb"/>
<path d="M372.96,118.74V156.77M364.96,118.74H380.96M364.96,156.77H380.96" stroke="#4d6fbb" stroke-width="3.1" fill="none"/>
<circle cx="372.96" cy="137.76" r="6.5" fill="#4d6fbb"/>
<path d="M420.63,232.57V265.52M412.63,232.57H428.63M412.63,265.52H428.63" stroke="#4d6fbb" stroke-width="3.1" fill="none"/>
<circle cx="420.63" cy="249.04" r="6.5" fill="#4d6fbb"/>
<circle cx="468.30" cy="308.36" r="6.5" fill="#4d6fbb"/>
<circle cx="134.61" cy="61.20" r="6.5" fill="#000000"/>
<circle cx="182.28" cy="61.20" r="6.5" fill="#000000"/>
<path d="M229.95,96.44V110.13M221.95,96.44H237.95M221.95,110.13H237.95" stroke="#000000" stroke-width="3.1" fill="none"/>
<circle cx="229.95" cy="103.28" r="6.5" fill="#000000"/>
<circle cx="277.62" cy="205.19" r="6.5" fill="#000000"/>
<circle cx="325.29" cy="285.29" r="6.5" fill="#000000"/>
<circle cx="372.96" cy="308.11" r="6.5" fill="#000000"/>
<circle cx="420.63" cy="313.31" r="6.5" fill="#000000"/>
<circle cx="468.30" cy="314.32" r="6.5" fill="#000000"/>
<path d="M327.4,17.60H362.8" stroke="#000000" stroke-width="4.6" stroke-linecap="round"/>
<circle cx="345.1" cy="17.60" r="6.5" fill="#000000"/>
<text transform="translate(382.4,26.30) scale(1,1.03)" class="lg">WT</text>
<path d="M327.4,48.20H362.8" stroke="#4d6fbb" stroke-width="4.6" stroke-linecap="round"/>
<circle cx="345.1" cy="48.20" r="6.5" fill="#4d6fbb"/>
<text transform="translate(382.4,56.90) scale(1,1.03)" class="lg">F288A</text>
</g>
<g transform="translate(669,530.7)">
<path d="M93.60,8.20V342.30" stroke="#000" stroke-width="4.6" fill="none"/>
<path d="M81.40,314.70H93.60" stroke="#000" stroke-width="4.6"/>
<text transform="translate(80.2,323.50) scale(1,1.045)" text-anchor="end" class="tk">0</text>
<path d="M81.40,264.00H93.60" stroke="#000" stroke-width="4.6"/>
<text transform="translate(80.2,272.80) scale(1,1.045)" text-anchor="end" class="tk">20</text>
<path d="M81.40,213.30H93.60" stroke="#000" stroke-width="4.6"/>
<text transform="translate(80.2,222.10) scale(1,1.045)" text-anchor="end" class="tk">40</text>
<path d="M81.40,162.60H93.60" stroke="#000" stroke-width="4.6"/>
<text transform="translate(80.2,171.40) scale(1,1.045)" text-anchor="end" class="tk">60</text>
<path d="M81.40,111.90H93.60" stroke="#000" stroke-width="4.6"/>
<text transform="translate(80.2,120.70) scale(1,1.045)" text-anchor="end" class="tk">80</text>
<path d="M81.40,61.20H93.60" stroke="#000" stroke-width="4.6"/>
<text transform="translate(80.2,70.00) scale(1,1.045)" text-anchor="end" class="tk">100</text>
<path d="M81.40,10.50H93.60" stroke="#000" stroke-width="4.6"/>
<text transform="translate(80.2,19.30) scale(1,1.045)" text-anchor="end" class="tk">120</text>
<path d="M91.30,340.00H470.60" stroke="#000" stroke-width="4.6" fill="none"/>
<path d="M127.30,340.00V352.40" stroke="#000" stroke-width="4.6"/>
<text transform="translate(127.60,376.0) scale(1,1.045)" text-anchor="middle" class="tk">-10</text>
<path d="M195.50,340.00V352.40" stroke="#000" stroke-width="4.6"/>
<text transform="translate(195.80,376.0) scale(1,1.045)" text-anchor="middle" class="tk">-9</text>
<path d="M263.70,340.00V352.40" stroke="#000" stroke-width="4.6"/>
<text transform="translate(264.00,376.0) scale(1,1.045)" text-anchor="middle" class="tk">-8</text>
<path d="M331.90,340.00V352.40" stroke="#000" stroke-width="4.6"/>
<text transform="translate(332.20,376.0) scale(1,1.045)" text-anchor="middle" class="tk">-7</text>
<path d="M400.10,340.00V352.40" stroke="#000" stroke-width="4.6"/>
<text transform="translate(400.40,376.0) scale(1,1.045)" text-anchor="middle" class="tk">-6</text>
<path d="M468.30,340.00V352.40" stroke="#000" stroke-width="4.6"/>
<text transform="translate(468.60,376.0) scale(1,1.045)" text-anchor="middle" class="tk">-5</text>
<text transform="translate(281.3,422.4) scale(1,1.06)" text-anchor="middle" class="ti">[PTH(1-34)], log (M)</text>
<text transform="translate(20.9,174.6) rotate(-90) scale(1,1.06)" text-anchor="middle" class="ti">specific binding (%)</text>
<path d="M134.61,61.57 L137.39,61.61 L140.17,61.66 L142.95,61.71 L145.73,61.77 L148.52,61.83 L151.30,61.89 L154.08,61.97 L156.86,62.05 L159.64,62.15 L162.42,62.25 L165.20,62.36 L167.98,62.49 L170.76,62.63 L173.54,62.78 L176.32,62.95 L179.10,63.14 L181.88,63.35 L184.66,63.58 L187.45,63.84 L190.23,64.12 L193.01,64.44 L195.79,64.78 L198.57,65.17 L201.35,65.59 L204.13,66.06 L206.91,66.58 L209.69,67.15 L212.47,67.78 L215.25,68.48 L218.03,69.24 L220.81,70.09 L223.60,71.02 L226.38,72.04 L229.16,73.16 L231.94,74.40 L234.72,75.75 L237.50,77.23 L240.28,78.86 L243.06,80.63 L245.84,82.56 L248.62,84.67 L251.40,86.97 L254.18,89.46 L256.96,92.16 L259.74,95.08 L262.53,98.22 L265.31,101.61 L268.09,105.24 L270.87,109.13 L273.65,113.27 L276.43,117.67 L279.21,122.33 L281.99,127.25 L284.77,132.42 L287.55,137.83 L290.33,143.46 L293.11,149.30 L295.89,155.32 L298.68,161.51 L301.46,167.83 L304.24,174.26 L307.02,180.76 L309.80,187.30 L312.58,193.84 L315.36,200.35 L318.14,206.79 L320.92,213.14 L323.70,219.35 L326.48,225.41 L329.26,231.29 L332.04,236.97 L334.82,242.42 L337.61,247.63 L340.39,252.60 L343.17,257.32 L345.95,261.77 L348.73,265.97 L351.51,269.90 L354.29,273.59 L357.07,277.02 L359.85,280.21 L362.63,283.18 L365.41,285.92 L368.19,288.45 L370.97,290.78 L373.75,292.93 L376.54,294.90 L379.32,296.70 L382.10,298.35 L384.88,299.86 L387.66,301.24 L390.44,302.50 L393.22,303.64 L396.00,304.69 L398.78,305.63 L401.56,306.49 L404.34,307.28 L407.12,307.99 L409.90,308.63 L412.69,309.21 L415.47,309.74 L418.25,310.22 L421.03,310.65 L423.81,311.04 L426.59,311.40 L429.37,311.72 L432.15,312.01 L434.93,312.27 L437.71,312.50 L440.49,312.72 L443.27,312.91 L446.05,313.09 L448.83,313.24 L451.62,313.39 L454.40,313.51 L457.18,313.63 L459.96,313.73 L462.74,313.83 L465.52,313.91 L468.30,313.99" fill="none" stroke="#4d6fbb" stroke-width="4.7" stroke-linejoin="round"/>
<path d="M134.61,63.84 L137.39,64.10 L140.17,64.38 L142.95,64.69 L145.73,65.03 L148.52,65.40 L151.30,65.80 L154.08,66.25 L156.86,66.73 L159.64,67.26 L162.42,67.84 L165.20,68.48 L167.98,69.17 L170.76,69.93 L173.54,70.76 L176.32,71.66 L179.10,72.64 L181.88,73.71 L184.66,74.88 L187.45,76.14 L190.23,77.52 L193.01,79.01 L195.79,80.63 L198.57,82.39 L201.35,84.28 L204.13,86.33 L206.91,88.54 L209.69,90.91 L212.47,93.46 L215.25,96.20 L218.03,99.13 L220.81,102.26 L223.60,105.59 L226.38,109.14 L229.16,112.89 L231.94,116.86 L234.72,121.05 L237.50,125.45 L240.28,130.05 L243.06,134.86 L245.84,139.86 L248.62,145.05 L251.40,150.39 L254.18,155.89 L256.96,161.53 L259.74,167.27 L262.53,173.10 L265.31,179.00 L268.09,184.93 L270.87,190.88 L273.65,196.82 L276.43,202.72 L279.21,208.55 L281.99,214.29 L284.77,219.93 L287.55,225.43 L290.33,230.78 L293.11,235.96 L295.89,240.97 L298.68,245.78 L301.46,250.39 L304.24,254.79 L307.02,258.98 L309.80,262.95 L312.58,266.71 L315.36,270.26 L318.14,273.59 L320.92,276.73 L323.70,279.66 L326.48,282.40 L329.26,284.95 L332.04,287.33 L334.82,289.54 L337.61,291.59 L340.39,293.49 L343.17,295.24 L345.95,296.86 L348.73,298.36 L351.51,299.74 L354.29,301.01 L357.07,302.17 L359.85,303.24 L362.63,304.23 L365.41,305.13 L368.19,305.96 L370.97,306.72 L373.75,307.41 L376.54,308.05 L379.32,308.63 L382.10,309.16 L384.88,309.65 L387.66,310.09 L390.44,310.50 L393.22,310.87 L396.00,311.21 L398.78,311.52 L401.56,311.80 L404.34,312.06 L407.12,312.29 L409.90,312.50 L412.69,312.70 L415.47,312.88 L418.25,313.04 L421.03,313.19 L423.81,313.32 L426.59,313.45 L429.37,313.56 L432.15,313.66 L434.93,313.75 L437.71,313.84 L440.49,313.91 L443.27,313.98 L446.05,314.05 L448.83,314.11 L451.62,314.16 L454.40,314.21 L457.18,314.25 L459.96,314.29 L462.74,314.33 L465.52,314.36 L468.30,314.39" fill="none" stroke="#000000" stroke-width="4.7" stroke-linejoin="round"/>
<circle cx="134.61" cy="61.20" r="6.5" fill="#4d6fbb"/>
<path d="M182.28,30.78V54.61M174.28,30.78H190.28M174.28,54.61H190.28" stroke="#4d6fbb" stroke-width="3.1" fill="none"/>
<circle cx="182.28" cy="42.69" r="6.5" fill="#4d6fbb"/>
<path d="M229.95,51.06V66.27M221.95,51.06H237.95M221.95,66.27H237.95" stroke="#4d6fbb" stroke-width="3.1" fill="none"/>
<circle cx="229.95" cy="58.66" r="6.5" fill="#4d6fbb"/>
<path d="M277.62,117.98V132.69M269.62,117.98H285.62M269.62,132.69H285.62" stroke="#4d6fbb" stroke-width="3.1" fill="none"/>
<circle cx="277.62" cy="125.34" r="6.5" fill="#4d6fbb"/>
<circle cx="325.29" cy="234.59" r="6.5" fill="#4d6fbb"/>
<circle cx="372.96" cy="292.90" r="6.5" fill="#4d6fbb"/>
<circle cx="420.63" cy="306.33" r="6.5" fill="#4d6fbb"/>
<circle cx="468.30" cy="313.43" r="6.5" fill="#4d6fbb"/>
<circle cx="134.61" cy="61.20" r="6.5" fill="#000000"/>
<circle cx="182.28" cy="61.20" r="6.5" fill="#000000"/>
<path d="M229.95,96.44V110.13M221.95,96.44H237.95M221.95,110.13H237.95" stroke="#000000" stroke-width="3.1" fill="none"/>
<circle cx="229.95" cy="103.28" r="6.5" fill="#000000"/>
<circle cx="277.62" cy="205.19" r="6.5" fill="#000000"/>
<circle cx="325.29" cy="285.29" r="6.5" fill="#000000"/>
<circle cx="372.96" cy="308.11" r="6.5" fill="#000000"/>
<circle cx="420.63" cy="313.31" r="6.5" fill="#000000"/>
<circle cx="468.30" cy="314.32" r="6.5" fill="#000000"/>
<path d="M327.4,17.60H362.8" stroke="#000000" stroke-width="4.6" stroke-linecap="round"/>
<circle cx="345.1" cy="17.60" r="6.5" fill="#000000"/>
<text transform="translate(382.4,26.30) scale(1,1.03)" class="lg">WT</text>
<path d="M327.4,48.20H362.8" stroke="#4d6fbb" stroke-width="4.6" stroke-linecap="round"/>
<circle cx="345.1" cy="48.20" r="6.5" fill="#4d6fbb"/>
<text transform="translate(382.4,56.90) scale(1,1.03)" class="lg">W352A</text>
</g>
<g transform="translate(1337,530.7)">
<path d="M93.60,8.20V342.30" stroke="#000" stroke-width="4.6" fill="none"/>
<path d="M81.40,314.70H93.60" stroke="#000" stroke-width="4.6"/>
<text transform="translate(80.2,323.50) scale(1,1.045)" text-anchor="end" class="tk">0</text>
<path d="M81.40,264.00H93.60" stroke="#000" stroke-width="4.6"/>
<text transform="translate(80.2,272.80) scale(1,1.045)" text-anchor="end" class="tk">20</text>
<path d="M81.40,213.30H93.60" stroke="#000" stroke-width="4.6"/>
<text transform="translate(80.2,222.10) scale(1,1.045)" text-anchor="end" class="tk">40</text>
<path d="M81.40,162.60H93.60" stroke="#000" stroke-width="4.6"/>
<text transform="translate(80.2,171.40) scale(1,1.045)" text-anchor="end" class="tk">60</text>
<path d="M81.40,111.90H93.60" stroke="#000" stroke-width="4.6"/>
<text transform="translate(80.2,120.70) scale(1,1.045)" text-anchor="end" class="tk">80</text>
<path d="M81.40,61.20H93.60" stroke="#000" stroke-width="4.6"/>
<text transform="translate(80.2,70.00) scale(1,1.045)" text-anchor="end" class="tk">100</text>
<path d="M81.40,10.50H93.60" stroke="#000" stroke-width="4.6"/>
<text transform="translate(80.2,19.30) scale(1,1.045)" text-anchor="end" class="tk">120</text>
<path d="M91.30,340.00H470.60" stroke="#000" stroke-width="4.6" fill="none"/>
<path d="M127.30,340.00V352.40" stroke="#000" stroke-width="4.6"/>
<text transform="translate(127.60,376.0) scale(1,1.045)" text-anchor="middle" class="tk">-10</text>
<path d="M195.50,340.00V352.40" stroke="#000" stroke-width="4.6"/>
<text transform="translate(195.80,376.0) scale(1,1.045)" text-anchor="middle" class="tk">-9</text>
<path d="M263.70,340.00V352.40" stroke="#000" stroke-width="4.6"/>
<text transform="translate(264.00,376.0) scale(1,1.045)" text-anchor="middle" class="tk">-8</text>
<path d="M331.90,340.00V352.40" stroke="#000" stroke-width="4.6"/>
<text transform="translate(332.20,376.0) scale(1,1.045)" text-anchor="middle" class="tk">-7</text>
<path d="M400.10,340.00V352.40" stroke="#000" stroke-width="4.6"/>
<text transform="translate(400.40,376.0) scale(1,1.045)" text-anchor="middle" class="tk">-6</text>
<path d="M468.30,340.00V352.40" stroke="#000" stroke-width="4.6"/>
<text transform="translate(468.60,376.0) scale(1,1.045)" text-anchor="middle" class="tk">-5</text>
<text transform="translate(281.3,422.4) scale(1,1.06)" text-anchor="middle" class="ti">[PTH(1-34)], log (M)</text>
<text transform="translate(20.9,174.6) rotate(-90) scale(1,1.06)" text-anchor="middle" class="ti">specific binding (%)</text>
<path d="M134.61,62.23 L137.39,62.33 L140.17,62.44 L142.95,62.55 L145.73,62.68 L148.52,62.82 L151.30,62.98 L154.08,63.14 L156.86,63.33 L159.64,63.53 L162.42,63.75 L165.20,63.99 L167.98,64.25 L170.76,64.54 L173.54,64.85 L176.32,65.19 L179.10,65.57 L181.88,65.98 L184.66,66.42 L187.45,66.91 L190.23,67.44 L193.01,68.02 L195.79,68.65 L198.57,69.34 L201.35,70.09 L204.13,70.90 L206.91,71.79 L209.69,72.75 L212.47,73.80 L215.25,74.94 L218.03,76.17 L220.81,77.50 L223.60,78.95 L226.38,80.51 L229.16,82.20 L231.94,84.02 L234.72,85.99 L237.50,88.10 L240.28,90.37 L243.06,92.80 L245.84,95.41 L248.62,98.19 L251.40,101.16 L254.18,104.33 L256.96,107.68 L259.74,111.24 L262.53,115.00 L265.31,118.96 L268.09,123.12 L270.87,127.48 L273.65,132.04 L276.43,136.78 L279.21,141.69 L281.99,146.78 L284.77,152.01 L287.55,157.39 L290.33,162.88 L293.11,168.47 L295.89,174.14 L298.68,179.87 L301.46,185.63 L304.24,191.40 L307.02,197.16 L309.80,202.87 L312.58,208.53 L315.36,214.11 L318.14,219.58 L320.92,224.92 L323.70,230.13 L326.48,235.18 L329.26,240.07 L332.04,244.77 L334.82,249.29 L337.61,253.61 L340.39,257.73 L343.17,261.65 L345.95,265.37 L348.73,268.89 L351.51,272.21 L354.29,275.33 L357.07,278.27 L359.85,281.02 L362.63,283.59 L365.41,285.99 L368.19,288.23 L370.97,290.31 L373.75,292.25 L376.54,294.04 L379.32,295.70 L382.10,297.24 L384.88,298.67 L387.66,299.98 L390.44,301.19 L393.22,302.31 L396.00,303.34 L398.78,304.29 L401.56,305.16 L404.34,305.96 L407.12,306.70 L409.90,307.38 L412.69,308.00 L415.47,308.57 L418.25,309.09 L421.03,309.57 L423.81,310.01 L426.59,310.41 L429.37,310.78 L432.15,311.11 L434.93,311.42 L437.71,311.70 L440.49,311.96 L443.27,312.20 L446.05,312.41 L448.83,312.61 L451.62,312.79 L454.40,312.96 L457.18,313.11 L459.96,313.24 L462.74,313.37 L465.52,313.49 L468.30,313.59" fill="none" stroke="#4d6fbb" stroke-width="4.7" stroke-linejoin="round"/>
<path d="M134.61,63.84 L137.39,64.10 L140.17,64.38 L142.95,64.69 L145.73,65.03 L148.52,65.40 L151.30,65.80 L154.08,66.25 L156.86,66.73 L159.64,67.26 L162.42,67.84 L165.20,68.48 L167.98,69.17 L170.76,69.93 L173.54,70.76 L176.32,71.66 L179.10,72.64 L181.88,73.71 L184.66,74.88 L187.45,76.14 L190.23,77.52 L193.01,79.01 L195.79,80.63 L198.57,82.39 L201.35,84.28 L204.13,86.33 L206.91,88.54 L209.69,90.91 L212.47,93.46 L215.25,96.20 L218.03,99.13 L220.81,102.26 L223.60,105.59 L226.38,109.14 L229.16,112.89 L231.94,116.86 L234.72,121.05 L237.50,125.45 L240.28,130.05 L243.06,134.86 L245.84,139.86 L248.62,145.05 L251.40,150.39 L254.18,155.89 L256.96,161.53 L259.74,167.27 L262.53,173.10 L265.31,179.00 L268.09,184.93 L270.87,190.88 L273.65,196.82 L276.43,202.72 L279.21,208.55 L281.99,214.29 L284.77,219.93 L287.55,225.43 L290.33,230.78 L293.11,235.96 L295.89,240.97 L298.68,245.78 L301.46,250.39 L304.24,254.79 L307.02,258.98 L309.80,262.95 L312.58,266.71 L315.36,270.26 L318.14,273.59 L320.92,276.73 L323.70,279.66 L326.48,282.40 L329.26,284.95 L332.04,287.33 L334.82,289.54 L337.61,291.59 L340.39,293.49 L343.17,295.24 L345.95,296.86 L348.73,298.36 L351.51,299.74 L354.29,301.01 L357.07,302.17 L359.85,303.24 L362.63,304.23 L365.41,305.13 L368.19,305.96 L370.97,306.72 L373.75,307.41 L376.54,308.05 L379.32,308.63 L382.10,309.16 L384.88,309.65 L387.66,310.09 L390.44,310.50 L393.22,310.87 L396.00,311.21 L398.78,311.52 L401.56,311.80 L404.34,312.06 L407.12,312.29 L409.90,312.50 L412.69,312.70 L415.47,312.88 L418.25,313.04 L421.03,313.19 L423.81,313.32 L426.59,313.45 L429.37,313.56 L432.15,313.66 L434.93,313.75 L437.71,313.84 L440.49,313.91 L443.27,313.98 L446.05,314.05 L448.83,314.11 L451.62,314.16 L454.40,314.21 L457.18,314.25 L459.96,314.29 L462.74,314.33 L465.52,314.36 L468.30,314.39" fill="none" stroke="#000000" stroke-width="4.7" stroke-linejoin="round"/>
<circle cx="134.61" cy="61.20" r="6.5" fill="#4d6fbb"/>
<circle cx="182.28" cy="61.20" r="6.5" fill="#4d6fbb"/>
<path d="M229.95,72.61V101.00M221.95,72.61H237.95M221.95,101.00H237.95" stroke="#4d6fbb" stroke-width="3.1" fill="none"/>
<circle cx="229.95" cy="86.80" r="6.5" fill="#4d6fbb"/>
<path d="M277.62,130.91V167.42M269.62,130.91H285.62M269.62,167.42H285.62" stroke="#4d6fbb" stroke-width="3.1" fill="none"/>
<circle cx="277.62" cy="149.16" r="6.5" fill="#4d6fbb"/>
<path d="M325.29,224.20V244.48M317.29,224.20H333.29M317.29,244.48H333.29" stroke="#4d6fbb" stroke-width="3.1" fill="none"/>
<circle cx="325.29" cy="234.34" r="6.5" fill="#4d6fbb"/>
<circle cx="372.96" cy="286.31" r="6.5" fill="#4d6fbb"/>
<circle cx="420.63" cy="307.09" r="6.5" fill="#4d6fbb"/>
<circle cx="468.30" cy="313.43" r="6.5" fill="#4d6fbb"/>
<circle cx="134.61" cy="61.20" r="6.5" fill="#000000"/>
<circle cx="182.28" cy="61.20" r="6.5" fill="#000000"/>
<path d="M229.95,96.44V110.13M221.95,96.44H237.95M221.95,110.13H237.95" stroke="#000000" stroke-width="3.1" fill="none"/>
<circle cx="229.95" cy="103.28" r="6.5" fill="#000000"/>
<circle cx="277.62" cy="205.19" r="6.5" fill="#000000"/>
<circle cx="325.29" cy="285.29" r="6.5" fill="#000000"/>
<circle cx="372.96" cy="308.11" r="6.5" fill="#000000"/>
<circle cx="420.63" cy="313.31" r="6.5" fill="#000000"/>
<circle cx="468.30" cy="314.32" r="6.5" fill="#000000"/>
<path d="M327.4,17.60H362.8" stroke="#000000" stroke-width="4.6" stroke-linecap="round"/>
<circle cx="345.1" cy="17.60" r="6.5" fill="#000000"/>
<text transform="translate(382.4,26.30) scale(1,1.03)" class="lg">WT</text>
<path d="M327.4,48.20H362.8" stroke="#4d6fbb" stroke-width="4.6" stroke-linecap="round"/>
<circle cx="345.1" cy="48.20" r="6.5" fill="#4d6fbb"/>
<text transform="translate(382.4,56.90) scale(1,1.03)" class="lg">L354A</text>
</g>
<g transform="translate(0,1061)">
<path d="M93.60,8.20V342.30" stroke="#000" stroke-width="4.6" fill="none"/>
<path d="M81.40,314.70H93.60" stroke="#000" stroke-width="4.6"/>
<text transform="translate(80.2,323.50) scale(1,1.045)" text-anchor="end" class="tk">0</text>
<path d="M81.40,264.00H93.60" stroke="#000" stroke-width="4.6"/>
<text transform="translate(80.2,272.80) scale(1,1.045)" text-anchor="end" class="tk">20</text>
<path d="M81.40,213.30H93.60" stroke="#000" stroke-width="4.6"/>
<text transform="translate(80.2,222.10) scale(1,1.045)" text-anchor="end" class="tk">40</text>
<path d="M81.40,162.60H93.60" stroke="#000" stroke-width="4.6"/>
<text transform="translate(80.2,171.40) scale(1,1.045)" text-anchor="end" class="tk">60</text>
<path d="M81.40,111.90H93.60" stroke="#000" stroke-width="4.6"/>
<text transform="translate(80.2,120.70) scale(1,1.045)" text-anchor="end" class="tk">80</text>
<path d="M81.40,61.20H93.60" stroke="#000" stroke-width="4.6"/>
<text transform="translate(80.2,70.00) scale(1,1.045)" text-anchor="end" class="tk">100</text>
<path d="M81.40,10.50H93.60" stroke="#000" stroke-width="4.6"/>
<text transform="translate(80.2,19.30) scale(1,1.045)" text-anchor="end" class="tk">120</text>
<path d="M91.30,340.00H470.60" stroke="#000" stroke-width="4.6" fill="none"/>
<path d="M127.30,340.00V352.40" stroke="#000" stroke-width="4.6"/>
<text transform="translate(127.60,376.0) scale(1,1.045)" text-anchor="middle" class="tk">-10</text>
<path d="M195.50,340.00V352.40" stroke="#000" stroke-width="4.6"/>
<text transform="translate(195.80,376.0) scale(1,1.045)" text-anchor="middle" class="tk">-9</text>
<path d="M263.70,340.00V352.40" stroke="#000" stroke-width="4.6"/>
<text transform="translate(264.00,376.0) scale(1,1.045)" text-anchor="middle" class="tk">-8</text>
<path d="M331.90,340.00V352.40" stroke="#000" stroke-width="4.6"/>
<text transform="translate(332.20,376.0) scale(1,1.045)" text-anchor="middle" class="tk">-7</text>
<path d="M400.10,340.00V352.40" stroke="#000" stroke-width="4.6"/>
<text transform="translate(400.40,376.0) scale(1,1.045)" text-anchor="middle" class="tk">-6</text>
<path d="M468.30,340.00V352.40" stroke="#000" stroke-width="4.6"/>
<text transform="translate(468.60,376.0) scale(1,1.045)" text-anchor="middle" class="tk">-5</text>
<text transform="translate(281.3,422.4) scale(1,1.06)" text-anchor="middle" class="ti">[PTH(1-34)], log (M)</text>
<text transform="translate(20.9,174.6) rotate(-90) scale(1,1.06)" text-anchor="middle" class="ti">specific binding (%)</text>
<path d="M134.61,61.74 L137.39,61.79 L140.17,61.85 L142.95,61.91 L145.73,61.98 L148.52,62.06 L151.30,62.14 L154.08,62.23 L156.86,62.34 L159.64,62.45 L162.42,62.57 L165.20,62.70 L167.98,62.85 L170.76,63.01 L173.54,63.19 L176.32,63.38 L179.10,63.60 L181.88,63.83 L184.66,64.08 L187.45,64.37 L190.23,64.67 L193.01,65.01 L195.79,65.38 L198.57,65.78 L201.35,66.22 L204.13,66.71 L206.91,67.24 L209.69,67.82 L212.47,68.45 L215.25,69.14 L218.03,69.89 L220.81,70.72 L223.60,71.62 L226.38,72.60 L229.16,73.66 L231.94,74.82 L234.72,76.08 L237.50,77.46 L240.28,78.94 L243.06,80.56 L245.84,82.30 L248.62,84.19 L251.40,86.23 L254.18,88.43 L256.96,90.80 L259.74,93.34 L262.53,96.07 L265.31,98.99 L268.09,102.11 L270.87,105.44 L273.65,108.97 L276.43,112.72 L279.21,116.68 L281.99,120.86 L284.77,125.24 L287.55,129.84 L290.33,134.64 L293.11,139.63 L295.89,144.81 L298.68,150.15 L301.46,155.64 L304.24,161.27 L307.02,167.01 L309.80,172.83 L312.58,178.73 L315.36,184.66 L318.14,190.61 L320.92,196.55 L323.70,202.45 L326.48,208.28 L329.26,214.03 L332.04,219.67 L334.82,225.18 L337.61,230.54 L340.39,235.73 L343.17,240.74 L345.95,245.56 L348.73,250.18 L351.51,254.59 L354.29,258.79 L357.07,262.78 L359.85,266.55 L362.63,270.10 L365.41,273.45 L368.19,276.59 L370.97,279.53 L373.75,282.28 L376.54,284.84 L379.32,287.23 L382.10,289.44 L384.88,291.50 L387.66,293.40 L390.44,295.17 L393.22,296.79 L396.00,298.29 L398.78,299.68 L401.56,300.95 L404.34,302.12 L407.12,303.20 L409.90,304.18 L412.69,305.09 L415.47,305.92 L418.25,306.68 L421.03,307.38 L423.81,308.02 L426.59,308.60 L429.37,309.14 L432.15,309.63 L434.93,310.07 L437.71,310.48 L440.49,310.85 L443.27,311.19 L446.05,311.50 L448.83,311.79 L451.62,312.05 L454.40,312.28 L457.18,312.50 L459.96,312.69 L462.74,312.87 L465.52,313.03 L468.30,313.18" fill="none" stroke="#4d6fbb" stroke-width="4.7" stroke-linejoin="round"/>
<path d="M134.61,63.84 L137.39,64.10 L140.17,64.38 L142.95,64.69 L145.73,65.03 L148.52,65.40 L151.30,65.80 L154.08,66.25 L156.86,66.73 L159.64,67.26 L162.42,67.84 L165.20,68.48 L167.98,69.17 L170.76,69.93 L173.54,70.76 L176.32,71.66 L179.10,72.64 L181.88,73.71 L184.66,74.88 L187.45,76.14 L190.23,77.52 L193.01,79.01 L195.79,80.63 L198.57,82.39 L201.35,84.28 L204.13,86.33 L206.91,88.54 L209.69,90.91 L212.47,93.46 L215.25,96.20 L218.03,99.13 L220.81,102.26 L223.60,105.59 L226.38,109.14 L229.16,112.89 L231.94,116.86 L234.72,121.05 L237.50,125.45 L240.28,130.05 L243.06,134.86 L245.84,139.86 L248.62,145.05 L251.40,150.39 L254.18,155.89 L256.96,161.53 L259.74,167.27 L262.53,173.10 L265.31,179.00 L268.09,184.93 L270.87,190.88 L273.65,196.82 L276.43,202.72 L279.21,208.55 L281.99,214.29 L284.77,219.93 L287.55,225.43 L290.33,230.78 L293.11,235.96 L295.89,240.97 L298.68,245.78 L301.46,250.39 L304.24,254.79 L307.02,258.98 L309.80,262.95 L312.58,266.71 L315.36,270.26 L318.14,273.59 L320.92,276.73 L323.70,279.66 L326.48,282.40 L329.26,284.95 L332.04,287.33 L334.82,289.54 L337.61,291.59 L340.39,293.49 L343.17,295.24 L345.95,296.86 L348.73,298.36 L351.51,299.74 L354.29,301.01 L357.07,302.17 L359.85,303.24 L362.63,304.23 L365.41,305.13 L368.19,305.96 L370.97,306.72 L373.75,307.41 L376.54,308.05 L379.32,308.63 L382.10,309.16 L384.88,309.65 L387.66,310.09 L390.44,310.50 L393.22,310.87 L396.00,311.21 L398.78,311.52 L401.56,311.80 L404.34,312.06 L407.12,312.29 L409.90,312.50 L412.69,312.70 L415.47,312.88 L418.25,313.04 L421.03,313.19 L423.81,313.32 L426.59,313.45 L429.37,313.56 L432.15,313.66 L434.93,313.75 L437.71,313.84 L440.49,313.91 L443.27,313.98 L446.05,314.05 L448.83,314.11 L451.62,314.16 L454.40,314.21 L457.18,314.25 L459.96,314.29 L462.74,314.33 L465.52,314.36 L468.30,314.39" fill="none" stroke="#000000" stroke-width="4.7" stroke-linejoin="round"/>
<circle cx="134.61" cy="61.20" r="6.5" fill="#4d6fbb"/>
<path d="M182.28,52.83V77.17M174.28,52.83H190.28M174.28,77.17H190.28" stroke="#4d6fbb" stroke-width="3.1" fill="none"/>
<circle cx="182.28" cy="65.00" r="6.5" fill="#4d6fbb"/>
<path d="M229.95,68.80V121.03M221.95,68.80H237.95M221.95,121.03H237.95" stroke="#4d6fbb" stroke-width="3.1" fill="none"/>
<circle cx="229.95" cy="94.92" r="6.5" fill="#4d6fbb"/>
<path d="M277.62,93.65V154.49M269.62,93.65H285.62M269.62,154.49H285.62" stroke="#4d6fbb" stroke-width="3.1" fill="none"/>
<circle cx="277.62" cy="124.07" r="6.5" fill="#4d6fbb"/>
<path d="M325.29,191.25V219.13M317.29,191.25H333.29M317.29,219.13H333.29" stroke="#4d6fbb" stroke-width="3.1" fill="none"/>
<circle cx="325.29" cy="205.19" r="6.5" fill="#4d6fbb"/>
<path d="M372.96,267.80V288.08M364.96,267.80H380.96M364.96,288.08H380.96" stroke="#4d6fbb" stroke-width="3.1" fill="none"/>
<circle cx="372.96" cy="277.94" r="6.5" fill="#4d6fbb"/>
<circle cx="420.63" cy="308.11" r="6.5" fill="#4d6fbb"/>
<path d="M468.30,297.72V309.88M460.30,297.72H476.30M460.30,309.88H476.30" stroke="#4d6fbb" stroke-width="3.1" fill="none"/>
<circle cx="468.30" cy="303.80" r="6.5" fill="#4d6fbb"/>
<circle cx="134.61" cy="61.20" r="6.5" fill="#000000"/>
<circle cx="182.28" cy="61.20" r="6.5" fill="#000000"/>
<path d="M229.95,96.44V110.13M221.95,96.44H237.95M221.95,110.13H237.95" stroke="#000000" stroke-width="3.1" fill="none"/>
<circle cx="229.95" cy="103.28" r="6.5" fill="#000000"/>
<circle cx="277.62" cy="205.19" r="6.5" fill="#000000"/>
<circle cx="325.29" cy="285.29" r="6.5" fill="#000000"/>
<circle cx="372.96" cy="308.11" r="6.5" fill="#000000"/>
<circle cx="420.63" cy="313.31" r="6.5" fill="#000000"/>
<circle cx="468.30" cy="314.32" r="6.5" fill="#000000"/>
<path d="M327.4,17.60H362.8" stroke="#000000" stroke-width="4.6" stroke-linecap="round"/>
<circle cx="345.1" cy="17.60" r="6.5" fill="#000000"/>
<text transform="translate(382.4,26.30) scale(1,1.03)" class="lg">WT</text>
<path d="M327.4,57.10H362.8" stroke="#4d6fbb" stroke-width="4.6" stroke-linecap="round"/>
<circle cx="345.1" cy="57.10" r="6.5" fill="#4d6fbb"/>
<text transform="translate(382.4,65.80) scale(1,1.03)" class="lg">M441A</text>
</g>
<g transform="translate(669,1061)">
<path d="M93.60,8.20V342.30" stroke="#000" stroke-width="4.6" fill="none"/>
<path d="M81.40,314.70H93.60" stroke="#000" stroke-width="4.6"/>
<text transform="translate(80.2,323.50) scale(1,1.045)" text-anchor="end" class="tk">0</text>
<path d="M81.40,264.00H93.60" stroke="#000" stroke-width="4.6"/>
<text transform="translate(80.2,272.80) scale(1,1.045)" text-anchor="end" class="tk">20</text>
<path d="M81.40,213.30H93.60" stroke="#000" stroke-width="4.6"/>
<text transform="translate(80.2,222.10) scale(1,1.045)" text-anchor="end" class="tk">40</text>
<path d="M81.40,162.60H93.60" stroke="#000" stroke-width="4.6"/>
<text transform="translate(80.2,171.40) scale(1,1.045)" text-anchor="end" class="tk">60</text>
<path d="M81.40,111.90H93.60" stroke="#000" stroke-width="4.6"/>
<text transform="translate(80.2,120.70) scale(1,1.045)" text-anchor="end" class="tk">80</text>
<path d="M81.40,61.20H93.60" stroke="#000" stroke-width="4.6"/>
<text transform="translate(80.2,70.00) scale(1,1.045)" text-anchor="end" class="tk">100</text>
<path d="M81.40,10.50H93.60" stroke="#000" stroke-width="4.6"/>
<text transform="translate(80.2,19.30) scale(1,1.045)" text-anchor="end" class="tk">120</text>
<path d="M91.30,340.00H470.60" stroke="#000" stroke-width="4.6" fill="none"/>
<path d="M127.30,340.00V352.40" stroke="#000" stroke-width="4.6"/>
<text transform="translate(127.60,376.0) scale(1,1.045)" text-anchor="middle" class="tk">-10</text>
<path d="M195.50,340.00V352.40" stroke="#000" stroke-width="4.6"/>
<text transform="translate(195.80,376.0) scale(1,1.045)" text-anchor="middle" class="tk">-9</text>
<path d="M263.70,340.00V352.40" stroke="#000" stroke-width="4.6"/>
<text transform="translate(264.00,376.0) scale(1,1.045)" text-anchor="middle" class="tk">-8</text>
<path d="M331.90,340.00V352.40" stroke="#000" stroke-width="4.6"/>
<text transform="translate(332.20,376.0) scale(1,1.045)" text-anchor="middle" class="tk">-7</text>
<path d="M400.10,340.00V352.40" stroke="#000" stroke-width="4.6"/>
<text transform="translate(400.40,376.0) scale(1,1.045)" text-anchor="middle" class="tk">-6</text>
<path d="M468.30,340.00V352.40" stroke="#000" stroke-width="4.6"/>
<text transform="translate(468.60,376.0) scale(1,1.045)" text-anchor="middle" class="tk">-5</text>
<text transform="translate(281.3,422.4) scale(1,1.06)" text-anchor="middle" class="ti">[PTH(1-34)], log (M)</text>
<text transform="translate(20.9,174.6) rotate(-90) scale(1,1.06)" text-anchor="middle" class="ti">specific binding (%)</text>
<path d="M134.61,61.69 L137.39,61.74 L140.17,61.79 L142.95,61.85 L145.73,61.91 L148.52,61.97 L151.30,62.05 L154.08,62.13 L156.86,62.21 L159.64,62.31 L162.42,62.41 L165.20,62.53 L167.98,62.65 L170.76,62.79 L173.54,62.93 L176.32,63.10 L179.10,63.27 L181.88,63.47 L184.66,63.68 L187.45,63.91 L190.23,64.16 L193.01,64.44 L195.79,64.74 L198.57,65.07 L201.35,65.43 L204.13,65.82 L206.91,66.25 L209.69,66.71 L212.47,67.22 L215.25,67.77 L218.03,68.38 L220.81,69.03 L223.60,69.75 L226.38,70.52 L229.16,71.37 L231.94,72.28 L234.72,73.28 L237.50,74.36 L240.28,75.53 L243.06,76.80 L245.84,78.17 L248.62,79.65 L251.40,81.26 L254.18,82.99 L256.96,84.85 L259.74,86.85 L262.53,89.01 L265.31,91.32 L268.09,93.80 L270.87,96.44 L273.65,99.27 L276.43,102.28 L279.21,105.47 L281.99,108.86 L284.77,112.45 L287.55,116.23 L290.33,120.22 L293.11,124.40 L295.89,128.77 L298.68,133.33 L301.46,138.07 L304.24,142.98 L307.02,148.05 L309.80,153.26 L312.58,158.61 L315.36,164.07 L318.14,169.62 L320.92,175.25 L323.70,180.92 L326.48,186.63 L329.26,192.34 L332.04,198.03 L334.82,203.68 L337.61,209.27 L340.39,214.78 L343.17,220.18 L345.95,225.46 L348.73,230.60 L351.51,235.58 L354.29,240.40 L357.07,245.05 L359.85,249.51 L362.63,253.77 L365.41,257.85 L368.19,261.72 L370.97,265.40 L373.75,268.88 L376.54,272.17 L379.32,275.26 L382.10,278.17 L384.88,280.90 L387.66,283.46 L390.44,285.84 L393.22,288.07 L396.00,290.14 L398.78,292.07 L401.56,293.86 L404.34,295.52 L407.12,297.06 L409.90,298.48 L412.69,299.80 L415.47,301.01 L418.25,302.13 L421.03,303.17 L423.81,304.12 L426.59,305.00 L429.37,305.80 L432.15,306.54 L434.93,307.23 L437.71,307.85 L440.49,308.43 L443.27,308.96 L446.05,309.44 L448.83,309.89 L451.62,310.29 L454.40,310.67 L457.18,311.01 L459.96,311.32 L462.74,311.61 L465.52,311.87 L468.30,312.12" fill="none" stroke="#4d6fbb" stroke-width="4.7" stroke-linejoin="round"/>
<path d="M134.61,63.84 L137.39,64.10 L140.17,64.38 L142.95,64.69 L145.73,65.03 L148.52,65.40 L151.30,65.80 L154.08,66.25 L156.86,66.73 L159.64,67.26 L162.42,67.84 L165.20,68.48 L167.98,69.17 L170.76,69.93 L173.54,70.76 L176.32,71.66 L179.10,72.64 L181.88,73.71 L184.66,74.88 L187.45,76.14 L190.23,77.52 L193.01,79.01 L195.79,80.63 L198.57,82.39 L201.35,84.28 L204.13,86.33 L206.91,88.54 L209.69,90.91 L212.47,93.46 L215.25,96.20 L218.03,99.13 L220.81,102.26 L223.60,105.59 L226.38,109.14 L229.16,112.89 L231.94,116.86 L234.72,121.05 L237.50,125.45 L240.28,130.05 L243.06,134.86 L245.84,139.86 L248.62,145.05 L251.40,150.39 L254.18,155.89 L256.96,161.53 L259.74,167.27 L262.53,173.10 L265.31,179.00 L268.09,184.93 L270.87,190.88 L273.65,196.82 L276.43,202.72 L279.21,208.55 L281.99,214.29 L284.77,219.93 L287.55,225.43 L290.33,230.78 L293.11,235.96 L295.89,240.97 L298.68,245.78 L301.46,250.39 L304.24,254.79 L307.02,258.98 L309.80,262.95 L312.58,266.71 L315.36,270.26 L318.14,273.59 L320.92,276.73 L323.70,279.66 L326.48,282.40 L329.26,284.95 L332.04,287.33 L334.82,289.54 L337.61,291.59 L340.39,293.49 L343.17,295.24 L345.95,296.86 L348.73,298.36 L351.51,299.74 L354.29,301.01 L357.07,302.17 L359.85,303.24 L362.63,304.23 L365.41,305.13 L368.19,305.96 L370.97,306.72 L373.75,307.41 L376.54,308.05 L379.32,308.63 L382.10,309.16 L384.88,309.65 L387.66,310.09 L390.44,310.50 L393.22,310.87 L396.00,311.21 L398.78,311.52 L401.56,311.80 L404.34,312.06 L407.12,312.29 L409.90,312.50 L412.69,312.70 L415.47,312.88 L418.25,313.04 L421.03,313.19 L423.81,313.32 L426.59,313.45 L429.37,313.56 L432.15,313.66 L434.93,313.75 L437.71,313.84 L440.49,313.91 L443.27,313.98 L446.05,314.05 L448.83,314.11 L451.62,314.16 L454.40,314.21 L457.18,314.25 L459.96,314.29 L462.74,314.33 L465.52,314.36 L468.30,314.39" fill="none" stroke="#000000" stroke-width="4.7" stroke-linejoin="round"/>
<circle cx="134.61" cy="61.20" r="6.5" fill="#4d6fbb"/>
<path d="M182.28,70.33V88.07M174.28,70.33H190.28M174.28,88.07H190.28" stroke="#4d6fbb" stroke-width="3.1" fill="none"/>
<circle cx="182.28" cy="79.20" r="6.5" fill="#4d6fbb"/>
<path d="M229.95,87.56V100.24M221.95,87.56H237.95M221.95,100.24H237.95" stroke="#4d6fbb" stroke-width="3.1" fill="none"/>
<circle cx="229.95" cy="93.90" r="6.5" fill="#4d6fbb"/>
<path d="M277.62,84.27V117.73M269.62,84.27H285.62M269.62,117.73H285.62" stroke="#4d6fbb" stroke-width="3.1" fill="none"/>
<circle cx="277.62" cy="101.00" r="6.5" fill="#4d6fbb"/>
<path d="M325.29,176.04V204.93M317.29,176.04H333.29M317.29,204.93H333.29" stroke="#4d6fbb" stroke-width="3.1" fill="none"/>
<circle cx="325.29" cy="190.48" r="6.5" fill="#4d6fbb"/>
<path d="M372.96,255.13V275.41M364.96,255.13H380.96M364.96,275.41H380.96" stroke="#4d6fbb" stroke-width="3.1" fill="none"/>
<circle cx="372.96" cy="265.27" r="6.5" fill="#4d6fbb"/>
<path d="M420.63,299.49V314.70M412.63,299.49H428.63M412.63,314.70H428.63" stroke="#4d6fbb" stroke-width="3.1" fill="none"/>
<circle cx="420.63" cy="307.09" r="6.5" fill="#4d6fbb"/>
<circle cx="468.30" cy="310.14" r="6.5" fill="#4d6fbb"/>
<circle cx="134.61" cy="61.20" r="6.5" fill="#000000"/>
<circle cx="182.28" cy="61.20" r="6.5" fill="#000000"/>
<path d="M229.95,96.44V110.13M221.95,96.44H237.95M221.95,110.13H237.95" stroke="#000000" stroke-width="3.1" fill="none"/>
<circle cx="229.95" cy="103.28" r="6.5" fill="#000000"/>
<circle cx="277.62" cy="205.19" r="6.5" fill="#000000"/>
<circle cx="325.29" cy="285.29" r="6.5" fill="#000000"/>
<circle cx="372.96" cy="308.11" r="6.5" fill="#000000"/>
<circle cx="420.63" cy="313.31" r="6.5" fill="#000000"/>
<circle cx="468.30" cy="314.32" r="6.5" fill="#000000"/>
<path d="M134.61,61.61 L137.39,61.64 L140.17,61.68 L142.95,61.73 L145.73,61.77 L148.52,61.82 L151.30,61.88 L154.08,61.94 L156.86,62.01 L159.64,62.08 L162.42,62.16 L165.20,62.25 L167.98,62.34 L170.76,62.44 L173.54,62.56 L176.32,62.68 L179.10,62.81 L181.88,62.95 L184.66,63.11 L187.45,63.28 L190.23,63.47 L193.01,63.67 L195.79,63.89 L198.57,64.13 L201.35,64.39 L204.13,64.68 L206.91,64.98 L209.69,65.32 L212.47,65.69 L215.25,66.08 L218.03,66.51 L220.81,66.98 L223.60,67.49 L226.38,68.04 L229.16,68.64 L231.94,69.29 L234.72,70.00 L237.50,70.76 L240.28,71.59 L243.06,72.48 L245.84,73.45 L248.62,74.50 L251.40,75.63 L254.18,76.85 L256.96,78.17 L259.74,79.59 L262.53,81.12 L265.31,82.76 L268.09,84.53 L270.87,86.42 L273.65,88.45 L276.43,90.62 L279.21,92.95 L281.99,95.42 L284.77,98.06 L287.55,100.87 L290.33,103.84 L293.11,107.00 L295.89,110.33 L298.68,113.84 L301.46,117.53 L304.24,121.41 L307.02,125.46 L309.80,129.69 L312.58,134.09 L315.36,138.66 L318.14,143.38 L320.92,148.25 L323.70,153.25 L326.48,158.37 L329.26,163.60 L332.04,168.91 L334.82,174.29 L337.61,179.73 L340.39,185.19 L343.17,190.66 L345.95,196.12 L348.73,201.56 L351.51,206.94 L354.29,212.25 L357.07,217.48 L359.85,222.60 L362.63,227.60 L365.41,232.47 L368.19,237.20 L370.97,241.77 L373.75,246.17 L376.54,250.40 L379.32,254.46 L382.10,258.33 L384.88,262.03 L387.66,265.54 L390.44,268.87 L393.22,272.03 L396.00,275.01 L398.78,277.81 L401.56,280.45 L404.34,282.93 L407.12,285.26 L409.90,287.43 L412.69,289.46 L415.47,291.36 L418.25,293.12 L421.03,294.77 L423.81,296.30 L426.59,297.72 L429.37,299.04 L432.15,300.26 L434.93,301.39 L437.71,302.44 L440.49,303.41 L443.27,304.31 L446.05,305.13 L448.83,305.90 L451.62,306.60 L454.40,307.25 L457.18,307.85 L459.96,308.41 L462.74,308.91 L465.52,309.38 L468.30,309.81" fill="none" stroke="#f5a32f" stroke-width="4.7" stroke-linejoin="round"/>
<circle cx="134.61" cy="61.20" r="6.5" fill="#f5a32f"/>
<path d="M182.28,109.36V134.71M174.28,109.36H190.28M174.28,134.71H190.28" stroke="#f5a32f" stroke-width="3.1" fill="none"/>
<circle cx="182.28" cy="122.04" r="6.5" fill="#f5a32f"/>
<path d="M229.95,50.55V78.94M221.95,50.55H237.95M221.95,78.94H237.95" stroke="#f5a32f" stroke-width="3.1" fill="none"/>
<circle cx="229.95" cy="64.75" r="6.5" fill="#f5a32f"/>
<path d="M277.62,83.00V107.84M269.62,83.00H285.62M269.62,107.84H285.62" stroke="#f5a32f" stroke-width="3.1" fill="none"/>
<circle cx="277.62" cy="95.42" r="6.5" fill="#f5a32f"/>
<path d="M325.29,150.43V174.77M317.29,150.43H333.29M317.29,174.77H333.29" stroke="#f5a32f" stroke-width="3.1" fill="none"/>
<circle cx="325.29" cy="162.60" r="6.5" fill="#f5a32f"/>
<path d="M372.96,228.26V248.54M364.96,228.26H380.96M364.96,248.54H380.96" stroke="#f5a32f" stroke-width="3.1" fill="none"/>
<circle cx="372.96" cy="238.40" r="6.5" fill="#f5a32f"/>
<path d="M420.63,270.59V312.16M412.63,270.59H428.63M412.63,312.16H428.63" stroke="#f5a32f" stroke-width="3.1" fill="none"/>
<circle cx="420.63" cy="291.38" r="6.5" fill="#f5a32f"/>
<path d="M468.30,259.44V298.48M460.30,259.44H476.30M460.30,298.48H476.30" stroke="#f5a32f" stroke-width="3.1" fill="none"/>
<circle cx="468.30" cy="278.96" r="6.5" fill="#f5a32f"/>
<path d="M327.4,17.60H362.8" stroke="#000000" stroke-width="4.6" stroke-linecap="round"/>
<circle cx="345.1" cy="17.60" r="6.5" fill="#000000"/>
<text transform="translate(382.4,26.30) scale(1,1.03)" class="lg">WT</text>
<path d="M327.4,51.00H362.8" stroke="#4d6fbb" stroke-width="4.6" stroke-linecap="round"/>
<circle cx="345.1" cy="51.00" r="6.5" fill="#4d6fbb"/>
<text transform="translate(382.4,59.70) scale(1,1.03)" class="lg">M445A</text>
<path d="M327.4,84.40H362.8" stroke="#f5a32f" stroke-width="4.6" stroke-linecap="round"/>
<circle cx="345.1" cy="84.40" r="6.5" fill="#f5a32f"/>
<text transform="translate(382.4,93.10) scale(1,1.03)" class="lg">M445E</text>
</g>
<g transform="translate(1337,1061)">
<path d="M93.60,8.20V342.30" stroke="#000" stroke-width="4.6" fill="none"/>
<path d="M81.40,314.70H93.60" stroke="#000" stroke-width="4.6"/>
<text transform="translate(80.2,323.50) scale(1,1.045)" text-anchor="end" class="tk">0</text>
<path d="M81.40,264.00H93.60" stroke="#000" stroke-width="4.6"/>
<text transform="translate(80.2,272.80) scale(1,1.045)" text-anchor="end" class="tk">20</text>
<path d="M81.40,213.30H93.60" stroke="#000" stroke-width="4.6"/>
<text transform="translate(80.2,222.10) scale(1,1.045)" text-anchor="end" class="tk">40</text>
<path d="M81.40,162.60H93.60" stroke="#000" stroke-width="4.6"/>
<text transform="translate(80.2,171.40) scale(1,1.045)" text-anchor="end" class="tk">60</text>
<path d="M81.40,111.90H93.60" stroke="#000" stroke-width="4.6"/>
<text transform="translate(80.2,120.70) scale(1,1.045)" text-anchor="end" class="tk">80</text>
<path d="M81.40,61.20H93.60" stroke="#000" stroke-width="4.6"/>
<text transform="translate(80.2,70.00) scale(1,1.045)" text-anchor="end" class="tk">100</text>
<path d="M81.40,10.50H93.60" stroke="#000" stroke-width="4.6"/>
<text transform="translate(80.2,19.30) scale(1,1.045)" text-anchor="end" class="tk">120</text>
<path d="M91.30,340.00H470.60" stroke="#000" stroke-width="4.6" fill="none"/>
<path d="M127.30,340.00V352.40" stroke="#000" stroke-width="4.6"/>
<text transform="translate(127.60,376.0) scale(1,1.045)" text-anchor="middle" class="tk">-10</text>
<path d="M195.50,340.00V352.40" stroke="#000" stroke-width="4.6"/>
<text transform="translate(195.80,376.0) scale(1,1.045)" text-anchor="middle" class="tk">-9</text>
<path d="M263.70,340.00V352.40" stroke="#000" stroke-width="4.6"/>
<text transform="translate(264.00,376.0) scale(1,1.045)" text-anchor="middle" class="tk">-8</text>
<path d="M331.90,340.00V352.40" stroke="#000" stroke-width="4.6"/>
<text transform="translate(332.20,376.0) scale(1,1.045)" text-anchor="middle" class="tk">-7</text>
<path d="M400.10,340.00V352.40" stroke="#000" stroke-width="4.6"/>
<text transform="translate(400.40,376.0) scale(1,1.045)" text-anchor="middle" class="tk">-6</text>
<path d="M468.30,340.00V352.40" stroke="#000" stroke-width="4.6"/>
<text transform="translate(468.60,376.0) scale(1,1.045)" text-anchor="middle" class="tk">-5</text>
<text transform="translate(281.3,422.4) scale(1,1.06)" text-anchor="middle" class="ti">[PTH(1-34)], log (M)</text>
<text transform="translate(20.9,174.6) rotate(-90) scale(1,1.06)" text-anchor="middle" class="ti">specific binding (%)</text>
<path d="M134.61,61.37 L137.39,61.39 L140.17,61.41 L142.95,61.43 L145.73,61.45 L148.52,61.48 L151.30,61.51 L154.08,61.54 L156.86,61.57 L159.64,61.61 L162.42,61.65 L165.20,61.70 L167.98,61.75 L170.76,61.80 L173.54,61.86 L176.32,61.93 L179.10,62.00 L181.88,62.08 L184.66,62.17 L187.45,62.27 L190.23,62.37 L193.01,62.49 L195.79,62.62 L198.57,62.76 L201.35,62.92 L204.13,63.09 L206.91,63.27 L209.69,63.48 L212.47,63.71 L215.25,63.96 L218.03,64.23 L220.81,64.53 L223.60,64.86 L226.38,65.22 L229.16,65.62 L231.94,66.06 L234.72,66.53 L237.50,67.06 L240.28,67.63 L243.06,68.26 L245.84,68.95 L248.62,69.70 L251.40,70.52 L254.18,71.42 L256.96,72.40 L259.74,73.48 L262.53,74.64 L265.31,75.92 L268.09,77.30 L270.87,78.81 L273.65,80.44 L276.43,82.22 L279.21,84.14 L281.99,86.22 L284.77,88.46 L287.55,90.88 L290.33,93.48 L293.11,96.28 L295.89,99.27 L298.68,102.47 L301.46,105.89 L304.24,109.53 L307.02,113.38 L309.80,117.46 L312.58,121.77 L315.36,126.29 L318.14,131.03 L320.92,135.98 L323.70,141.12 L326.48,146.45 L329.26,151.96 L332.04,157.61 L334.82,163.39 L337.61,169.28 L340.39,175.26 L343.17,181.29 L345.95,187.35 L348.73,193.42 L351.51,199.46 L354.29,205.45 L357.07,211.36 L359.85,217.16 L362.63,222.84 L365.41,228.37 L368.19,233.74 L370.97,238.92 L373.75,243.91 L376.54,248.69 L379.32,253.26 L382.10,257.60 L384.88,261.73 L387.66,265.63 L390.44,269.31 L393.22,272.77 L396.00,276.01 L398.78,279.05 L401.56,281.88 L404.34,284.52 L407.12,286.98 L409.90,289.25 L412.69,291.36 L415.47,293.32 L418.25,295.12 L421.03,296.78 L423.81,298.31 L426.59,299.72 L429.37,301.01 L432.15,302.20 L434.93,303.29 L437.71,304.29 L440.49,305.21 L443.27,306.04 L446.05,306.81 L448.83,307.51 L451.62,308.15 L454.40,308.73 L457.18,309.27 L459.96,309.75 L462.74,310.20 L465.52,310.60 L468.30,310.97" fill="none" stroke="#4d6fbb" stroke-width="4.7" stroke-linejoin="round"/>
<path d="M134.61,63.84 L137.39,64.10 L140.17,64.38 L142.95,64.69 L145.73,65.03 L148.52,65.40 L151.30,65.80 L154.08,66.25 L156.86,66.73 L159.64,67.26 L162.42,67.84 L165.20,68.48 L167.98,69.17 L170.76,69.93 L173.54,70.76 L176.32,71.66 L179.10,72.64 L181.88,73.71 L184.66,74.88 L187.45,76.14 L190.23,77.52 L193.01,79.01 L195.79,80.63 L198.57,82.39 L201.35,84.28 L204.13,86.33 L206.91,88.54 L209.69,90.91 L212.47,93.46 L215.25,96.20 L218.03,99.13 L220.81,102.26 L223.60,105.59 L226.38,109.14 L229.16,112.89 L231.94,116.86 L234.72,121.05 L237.50,125.45 L240.28,130.05 L243.06,134.86 L245.84,139.86 L248.62,145.05 L251.40,150.39 L254.18,155.89 L256.96,161.53 L259.74,167.27 L262.53,173.10 L265.31,179.00 L268.09,184.93 L270.87,190.88 L273.65,196.82 L276.43,202.72 L279.21,208.55 L281.99,214.29 L284.77,219.93 L287.55,225.43 L290.33,230.78 L293.11,235.96 L295.89,240.97 L298.68,245.78 L301.46,250.39 L304.24,254.79 L307.02,258.98 L309.80,262.95 L312.58,266.71 L315.36,270.26 L318.14,273.59 L320.92,276.73 L323.70,279.66 L326.48,282.40 L329.26,284.95 L332.04,287.33 L334.82,289.54 L337.61,291.59 L340.39,293.49 L343.17,295.24 L345.95,296.86 L348.73,298.36 L351.51,299.74 L354.29,301.01 L357.07,302.17 L359.85,303.24 L362.63,304.23 L365.41,305.13 L368.19,305.96 L370.97,306.72 L373.75,307.41 L376.54,308.05 L379.32,308.63 L382.10,309.16 L384.88,309.65 L387.66,310.09 L390.44,310.50 L393.22,310.87 L396.00,311.21 L398.78,311.52 L401.56,311.80 L404.34,312.06 L407.12,312.29 L409.90,312.50 L412.69,312.70 L415.47,312.88 L418.25,313.04 L421.03,313.19 L423.81,313.32 L426.59,313.45 L429.37,313.56 L432.15,313.66 L434.93,313.75 L437.71,313.84 L440.49,313.91 L443.27,313.98 L446.05,314.05 L448.83,314.11 L451.62,314.16 L454.40,314.21 L457.18,314.25 L459.96,314.29 L462.74,314.33 L465.52,314.36 L468.30,314.39" fill="none" stroke="#000000" stroke-width="4.7" stroke-linejoin="round"/>
<circle cx="134.61" cy="61.20" r="6.5" fill="#4d6fbb"/>
<path d="M182.28,62.21V89.08M174.28,62.21H190.28M174.28,89.08H190.28" stroke="#4d6fbb" stroke-width="3.1" fill="none"/>
<circle cx="182.28" cy="75.65" r="6.5" fill="#4d6fbb"/>
<path d="M229.95,48.27V93.39M221.95,48.27H237.95M221.95,93.39H237.95" stroke="#4d6fbb" stroke-width="3.1" fill="none"/>
<circle cx="229.95" cy="70.83" r="6.5" fill="#4d6fbb"/>
<path d="M277.62,64.24V103.79M269.62,64.24H285.62M269.62,103.79H285.62" stroke="#4d6fbb" stroke-width="3.1" fill="none"/>
<circle cx="277.62" cy="84.01" r="6.5" fill="#4d6fbb"/>
<path d="M325.29,146.12V163.87M317.29,146.12H333.29M317.29,163.87H333.29" stroke="#4d6fbb" stroke-width="3.1" fill="none"/>
<circle cx="325.29" cy="154.99" r="6.5" fill="#4d6fbb"/>
<path d="M372.96,224.20V258.68M364.96,224.20H380.96M364.96,258.68H380.96" stroke="#4d6fbb" stroke-width="3.1" fill="none"/>
<circle cx="372.96" cy="241.44" r="6.5" fill="#4d6fbb"/>
<path d="M420.63,286.81V308.11M412.63,286.81H428.63M412.63,308.11H428.63" stroke="#4d6fbb" stroke-width="3.1" fill="none"/>
<circle cx="420.63" cy="297.46" r="6.5" fill="#4d6fbb"/>
<path d="M468.30,287.32V307.60M460.30,287.32H476.30M460.30,307.60H476.30" stroke="#4d6fbb" stroke-width="3.1" fill="none"/>
<circle cx="468.30" cy="297.46" r="6.5" fill="#4d6fbb"/>
<circle cx="134.61" cy="61.20" r="6.5" fill="#000000"/>
<circle cx="182.28" cy="61.20" r="6.5" fill="#000000"/>
<path d="M229.95,96.44V110.13M221.95,96.44H237.95M221.95,110.13H237.95" stroke="#000000" stroke-width="3.1" fill="none"/>
<circle cx="229.95" cy="103.28" r="6.5" fill="#000000"/>
<circle cx="277.62" cy="205.19" r="6.5" fill="#000000"/>
<circle cx="325.29" cy="285.29" r="6.5" fill="#000000"/>
<circle cx="372.96" cy="308.11" r="6.5" fill="#000000"/>
<circle cx="420.63" cy="313.31" r="6.5" fill="#000000"/>
<circle cx="468.30" cy="314.32" r="6.5" fill="#000000"/>
<path d="M327.4,17.60H362.8" stroke="#000000" stroke-width="4.6" stroke-linecap="round"/>
<circle cx="345.1" cy="17.60" r="6.5" fill="#000000"/>
<text transform="translate(382.4,26.30) scale(1,1.03)" class="lg">WT</text>
<path d="M327.4,48.20H362.8" stroke="#4d6fbb" stroke-width="4.6" stroke-linecap="round"/>
<circle cx="345.1" cy="48.20" r="6.5" fill="#4d6fbb"/>
<text transform="translate(382.4,56.90) scale(1,1.03)" class="lg">N448D</text>
</g>
</svg>
</body></html>
